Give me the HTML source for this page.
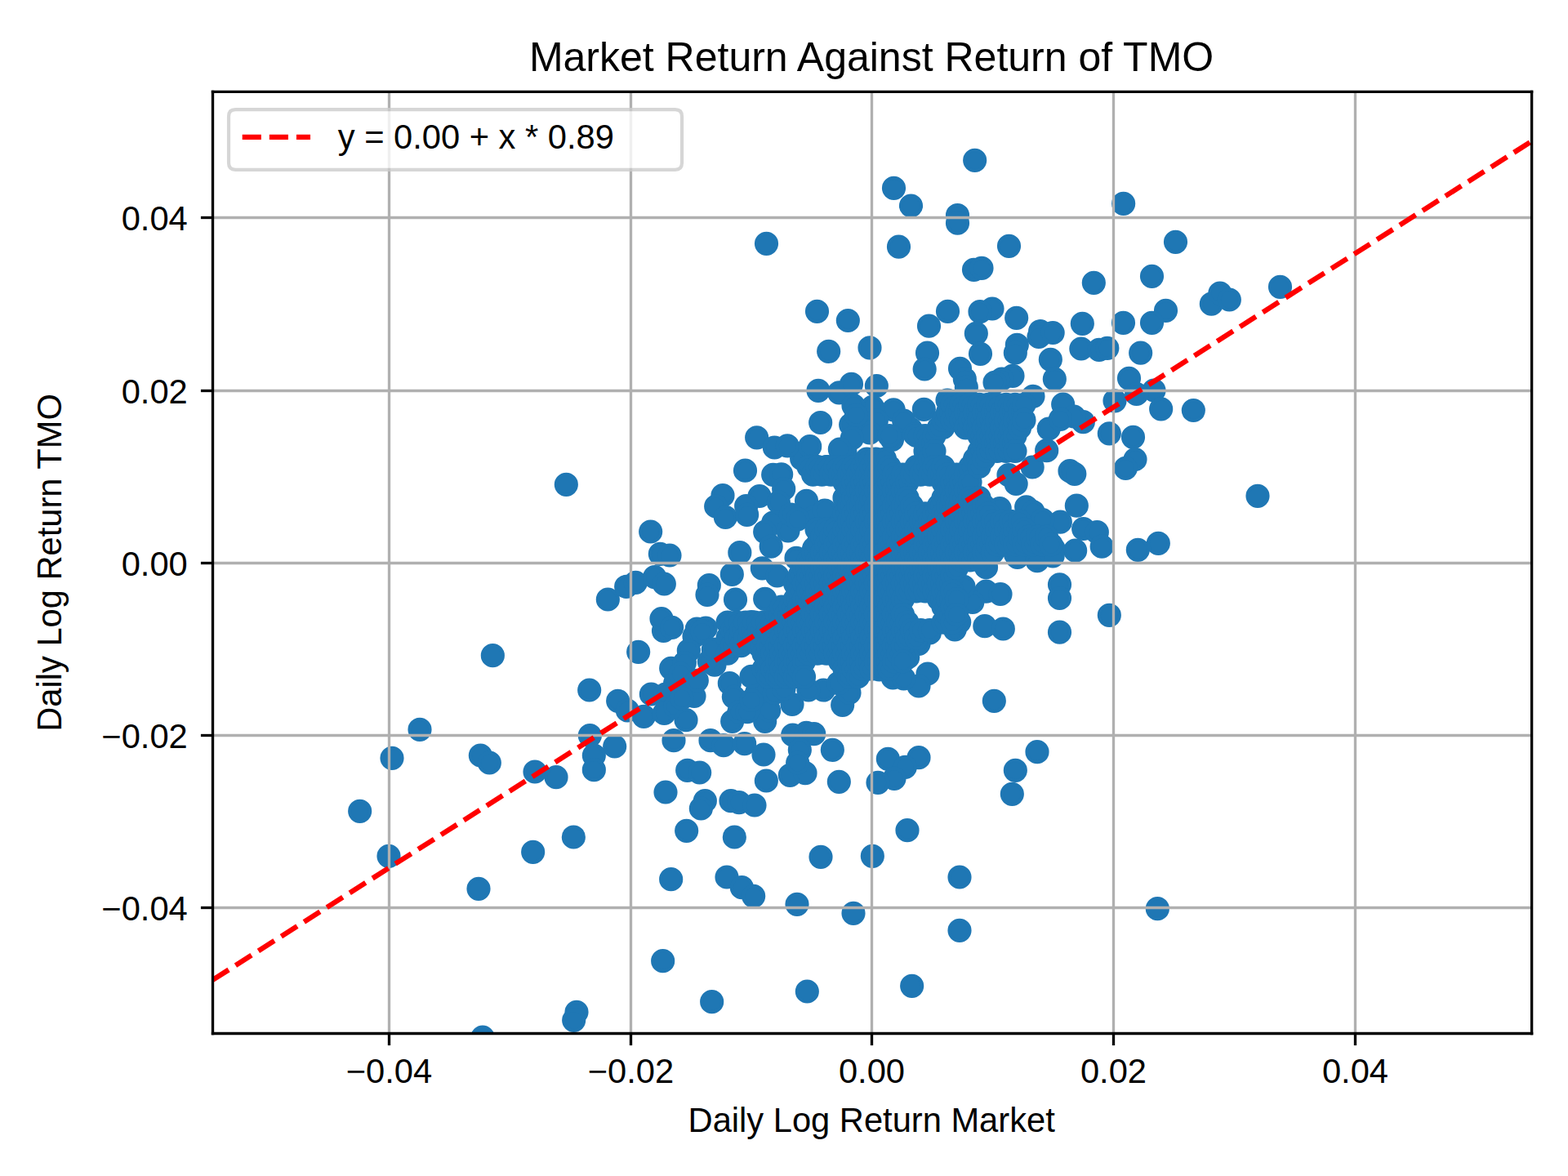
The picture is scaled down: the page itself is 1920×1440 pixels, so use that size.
<!DOCTYPE html>
<html><head><meta charset="utf-8"><title>Market Return Against Return of TMO</title>
<style>html,body{margin:0;padding:0;background:#fff;font-family:"Liberation Sans",sans-serif;}svg{display:block;}</style></head>
<body>
<svg width="1920" height="1440" viewBox="0 0 460.8 345.6" version="1.1">
 <defs>
  <style type="text/css">*{stroke-linejoin: round; stroke-linecap: butt}</style>
 </defs>
 <g id="figure_1">
  <g id="patch_1">
   <path d="M 0 345.6 
L 460.8 345.6 
L 460.8 0 
L 0 0 
z
" style="fill: #ffffff"/>
  </g>
  <g id="axes_1">
   <g id="patch_2">
    <path d="M 62.52 303.72 
L 450.144 303.72 
L 450.144 26.976 
L 62.52 26.976 
z
" style="fill: #ffffff"/>
   </g>
   <g id="PathCollection_1">
    <defs>
     <path id="mf14c53ed57" d="M 0 3 
C 0.795609 3 1.55874 2.683901 2.12132 2.12132 
C 2.683901 1.55874 3 0.795609 3 0 
C 3 -0.795609 2.683901 -1.55874 2.12132 -2.12132 
C 1.55874 -2.683901 0.795609 -3 0 -3 
C -0.795609 -3 -1.55874 -2.683901 -2.12132 -2.12132 
C -2.683901 -1.55874 -3 -0.795609 -3 0 
C -3 0.795609 -2.683901 1.55874 -2.12132 2.12132 
C -1.55874 2.683901 -0.795609 3 0 3 
z
" style="stroke: #1f77b4"/>
    </defs>
    <g clip-path="url(#pfc69b244ac)">
     <use href="#mf14c53ed57" x="286.48" y="47.12" style="fill: #1f77b4; stroke: #1f77b4"/>
     <use href="#mf14c53ed57" x="262.68" y="55.28" style="fill: #1f77b4; stroke: #1f77b4"/>
     <use href="#mf14c53ed57" x="267.72" y="60.48" style="fill: #1f77b4; stroke: #1f77b4"/>
     <use href="#mf14c53ed57" x="281.4" y="63.24" style="fill: #1f77b4; stroke: #1f77b4"/>
     <use href="#mf14c53ed57" x="281.4" y="65.56" style="fill: #1f77b4; stroke: #1f77b4"/>
     <use href="#mf14c53ed57" x="225.24" y="71.6" style="fill: #1f77b4; stroke: #1f77b4"/>
     <use href="#mf14c53ed57" x="264.12" y="72.52" style="fill: #1f77b4; stroke: #1f77b4"/>
     <use href="#mf14c53ed57" x="286.2" y="79.28" style="fill: #1f77b4; stroke: #1f77b4"/>
     <use href="#mf14c53ed57" x="288.48" y="78.8" style="fill: #1f77b4; stroke: #1f77b4"/>
     <use href="#mf14c53ed57" x="330.16" y="59.84" style="fill: #1f77b4; stroke: #1f77b4"/>
     <use href="#mf14c53ed57" x="296.52" y="72.32" style="fill: #1f77b4; stroke: #1f77b4"/>
     <use href="#mf14c53ed57" x="345.48" y="71.12" style="fill: #1f77b4; stroke: #1f77b4"/>
     <use href="#mf14c53ed57" x="321.44" y="83.12" style="fill: #1f77b4; stroke: #1f77b4"/>
     <use href="#mf14c53ed57" x="338.52" y="81.2" style="fill: #1f77b4; stroke: #1f77b4"/>
     <use href="#mf14c53ed57" x="342.6" y="91.28" style="fill: #1f77b4; stroke: #1f77b4"/>
     <use href="#mf14c53ed57" x="338.52" y="94.88" style="fill: #1f77b4; stroke: #1f77b4"/>
     <use href="#mf14c53ed57" x="356" y="89.32" style="fill: #1f77b4; stroke: #1f77b4"/>
     <use href="#mf14c53ed57" x="358.52" y="86.2" style="fill: #1f77b4; stroke: #1f77b4"/>
     <use href="#mf14c53ed57" x="361.28" y="88.08" style="fill: #1f77b4; stroke: #1f77b4"/>
     <use href="#mf14c53ed57" x="376.2" y="84.32" style="fill: #1f77b4; stroke: #1f77b4"/>
     <use href="#mf14c53ed57" x="291.6" y="90.72" style="fill: #1f77b4; stroke: #1f77b4"/>
     <use href="#mf14c53ed57" x="298.72" y="93.44" style="fill: #1f77b4; stroke: #1f77b4"/>
     <use href="#mf14c53ed57" x="305.68" y="97.36" style="fill: #1f77b4; stroke: #1f77b4"/>
     <use href="#mf14c53ed57" x="305.28" y="99" style="fill: #1f77b4; stroke: #1f77b4"/>
     <use href="#mf14c53ed57" x="309.4" y="97.8" style="fill: #1f77b4; stroke: #1f77b4"/>
     <use href="#mf14c53ed57" x="298.88" y="101.36" style="fill: #1f77b4; stroke: #1f77b4"/>
     <use href="#mf14c53ed57" x="298.4" y="103.68" style="fill: #1f77b4; stroke: #1f77b4"/>
     <use href="#mf14c53ed57" x="318.08" y="95.12" style="fill: #1f77b4; stroke: #1f77b4"/>
     <use href="#mf14c53ed57" x="330.12" y="94.88" style="fill: #1f77b4; stroke: #1f77b4"/>
     <use href="#mf14c53ed57" x="317.72" y="102.48" style="fill: #1f77b4; stroke: #1f77b4"/>
     <use href="#mf14c53ed57" x="323" y="102.8" style="fill: #1f77b4; stroke: #1f77b4"/>
     <use href="#mf14c53ed57" x="325.4" y="102.32" style="fill: #1f77b4; stroke: #1f77b4"/>
     <use href="#mf14c53ed57" x="335.2" y="103.72" style="fill: #1f77b4; stroke: #1f77b4"/>
     <use href="#mf14c53ed57" x="308.72" y="105.68" style="fill: #1f77b4; stroke: #1f77b4"/>
     <use href="#mf14c53ed57" x="309.92" y="111.4" style="fill: #1f77b4; stroke: #1f77b4"/>
     <use href="#mf14c53ed57" x="297.6" y="110.48" style="fill: #1f77b4; stroke: #1f77b4"/>
     <use href="#mf14c53ed57" x="294.4" y="111.4" style="fill: #1f77b4; stroke: #1f77b4"/>
     <use href="#mf14c53ed57" x="331.8" y="111.2" style="fill: #1f77b4; stroke: #1f77b4"/>
     <use href="#mf14c53ed57" x="339.12" y="114.72" style="fill: #1f77b4; stroke: #1f77b4"/>
     <use href="#mf14c53ed57" x="334" y="115.8" style="fill: #1f77b4; stroke: #1f77b4"/>
     <use href="#mf14c53ed57" x="341.2" y="120.2" style="fill: #1f77b4; stroke: #1f77b4"/>
     <use href="#mf14c53ed57" x="350.72" y="120.6" style="fill: #1f77b4; stroke: #1f77b4"/>
     <use href="#mf14c53ed57" x="327.6" y="117.8" style="fill: #1f77b4; stroke: #1f77b4"/>
     <use href="#mf14c53ed57" x="303.6" y="116.48" style="fill: #1f77b4; stroke: #1f77b4"/>
     <use href="#mf14c53ed57" x="312.4" y="118.8" style="fill: #1f77b4; stroke: #1f77b4"/>
     <use href="#mf14c53ed57" x="326" y="127.4" style="fill: #1f77b4; stroke: #1f77b4"/>
     <use href="#mf14c53ed57" x="333" y="128.48" style="fill: #1f77b4; stroke: #1f77b4"/>
     <use href="#mf14c53ed57" x="333.6" y="135" style="fill: #1f77b4; stroke: #1f77b4"/>
     <use href="#mf14c53ed57" x="330.8" y="137.6" style="fill: #1f77b4; stroke: #1f77b4"/>
     <use href="#mf14c53ed57" x="307.6" y="132.4" style="fill: #1f77b4; stroke: #1f77b4"/>
     <use href="#mf14c53ed57" x="278.52" y="91.52" style="fill: #1f77b4; stroke: #1f77b4"/>
     <use href="#mf14c53ed57" x="273" y="95.8" style="fill: #1f77b4; stroke: #1f77b4"/>
     <use href="#mf14c53ed57" x="288" y="91.6" style="fill: #1f77b4; stroke: #1f77b4"/>
     <use href="#mf14c53ed57" x="286.88" y="98" style="fill: #1f77b4; stroke: #1f77b4"/>
     <use href="#mf14c53ed57" x="288.12" y="104" style="fill: #1f77b4; stroke: #1f77b4"/>
     <use href="#mf14c53ed57" x="272.52" y="103.72" style="fill: #1f77b4; stroke: #1f77b4"/>
     <use href="#mf14c53ed57" x="271.72" y="108.48" style="fill: #1f77b4; stroke: #1f77b4"/>
     <use href="#mf14c53ed57" x="255.6" y="102.2" style="fill: #1f77b4; stroke: #1f77b4"/>
     <use href="#mf14c53ed57" x="257.6" y="113.4" style="fill: #1f77b4; stroke: #1f77b4"/>
     <use href="#mf14c53ed57" x="282.12" y="108.32" style="fill: #1f77b4; stroke: #1f77b4"/>
     <use href="#mf14c53ed57" x="283.52" y="111.4" style="fill: #1f77b4; stroke: #1f77b4"/>
     <use href="#mf14c53ed57" x="284" y="113.8" style="fill: #1f77b4; stroke: #1f77b4"/>
     <use href="#mf14c53ed57" x="292.32" y="112.4" style="fill: #1f77b4; stroke: #1f77b4"/>
     <use href="#mf14c53ed57" x="271.52" y="120.32" style="fill: #1f77b4; stroke: #1f77b4"/>
     <use href="#mf14c53ed57" x="262.6" y="120.44" style="fill: #1f77b4; stroke: #1f77b4"/>
     <use href="#mf14c53ed57" x="318.32" y="124" style="fill: #1f77b4; stroke: #1f77b4"/>
     <use href="#mf14c53ed57" x="315.6" y="122.4" style="fill: #1f77b4; stroke: #1f77b4"/>
     <use href="#mf14c53ed57" x="308.2" y="126" style="fill: #1f77b4; stroke: #1f77b4"/>
     <use href="#mf14c53ed57" x="314.4" y="138.4" style="fill: #1f77b4; stroke: #1f77b4"/>
     <use href="#mf14c53ed57" x="315.8" y="139.28" style="fill: #1f77b4; stroke: #1f77b4"/>
     <use href="#mf14c53ed57" x="316.4" y="148.6" style="fill: #1f77b4; stroke: #1f77b4"/>
     <use href="#mf14c53ed57" x="303.4" y="137.28" style="fill: #1f77b4; stroke: #1f77b4"/>
     <use href="#mf14c53ed57" x="296.4" y="139.6" style="fill: #1f77b4; stroke: #1f77b4"/>
     <use href="#mf14c53ed57" x="298.6" y="142.2" style="fill: #1f77b4; stroke: #1f77b4"/>
     <use href="#mf14c53ed57" x="293.8" y="149.4" style="fill: #1f77b4; stroke: #1f77b4"/>
     <use href="#mf14c53ed57" x="301.6" y="149" style="fill: #1f77b4; stroke: #1f77b4"/>
     <use href="#mf14c53ed57" x="303.6" y="150.4" style="fill: #1f77b4; stroke: #1f77b4"/>
     <use href="#mf14c53ed57" x="311.6" y="153.4" style="fill: #1f77b4; stroke: #1f77b4"/>
     <use href="#mf14c53ed57" x="306.4" y="152.8" style="fill: #1f77b4; stroke: #1f77b4"/>
     <use href="#mf14c53ed57" x="318.4" y="155.4" style="fill: #1f77b4; stroke: #1f77b4"/>
     <use href="#mf14c53ed57" x="322.4" y="156.4" style="fill: #1f77b4; stroke: #1f77b4"/>
     <use href="#mf14c53ed57" x="323.8" y="160.6" style="fill: #1f77b4; stroke: #1f77b4"/>
     <use href="#mf14c53ed57" x="316" y="161.8" style="fill: #1f77b4; stroke: #1f77b4"/>
     <use href="#mf14c53ed57" x="309.6" y="161.2" style="fill: #1f77b4; stroke: #1f77b4"/>
     <use href="#mf14c53ed57" x="298.4" y="162.8" style="fill: #1f77b4; stroke: #1f77b4"/>
     <use href="#mf14c53ed57" x="304.4" y="163.6" style="fill: #1f77b4; stroke: #1f77b4"/>
     <use href="#mf14c53ed57" x="144.8" y="192.64" style="fill: #1f77b4; stroke: #1f77b4"/>
     <use href="#mf14c53ed57" x="187.6" y="191.6" style="fill: #1f77b4; stroke: #1f77b4"/>
     <use href="#mf14c53ed57" x="173.2" y="202.8" style="fill: #1f77b4; stroke: #1f77b4"/>
     <use href="#mf14c53ed57" x="181.6" y="206" style="fill: #1f77b4; stroke: #1f77b4"/>
     <use href="#mf14c53ed57" x="184.4" y="208.8" style="fill: #1f77b4; stroke: #1f77b4"/>
     <use href="#mf14c53ed57" x="189.2" y="210.56" style="fill: #1f77b4; stroke: #1f77b4"/>
     <use href="#mf14c53ed57" x="191.36" y="204" style="fill: #1f77b4; stroke: #1f77b4"/>
     <use href="#mf14c53ed57" x="123.36" y="214.4" style="fill: #1f77b4; stroke: #1f77b4"/>
     <use href="#mf14c53ed57" x="115.2" y="222.8" style="fill: #1f77b4; stroke: #1f77b4"/>
     <use href="#mf14c53ed57" x="141.2" y="222" style="fill: #1f77b4; stroke: #1f77b4"/>
     <use href="#mf14c53ed57" x="143.84" y="224.16" style="fill: #1f77b4; stroke: #1f77b4"/>
     <use href="#mf14c53ed57" x="173.36" y="216.16" style="fill: #1f77b4; stroke: #1f77b4"/>
     <use href="#mf14c53ed57" x="180.64" y="219.36" style="fill: #1f77b4; stroke: #1f77b4"/>
     <use href="#mf14c53ed57" x="174.56" y="222" style="fill: #1f77b4; stroke: #1f77b4"/>
     <use href="#mf14c53ed57" x="174.56" y="226.24" style="fill: #1f77b4; stroke: #1f77b4"/>
     <use href="#mf14c53ed57" x="157.2" y="226.8" style="fill: #1f77b4; stroke: #1f77b4"/>
     <use href="#mf14c53ed57" x="163.44" y="228.4" style="fill: #1f77b4; stroke: #1f77b4"/>
     <use href="#mf14c53ed57" x="105.76" y="238.4" style="fill: #1f77b4; stroke: #1f77b4"/>
     <use href="#mf14c53ed57" x="114.24" y="251.6" style="fill: #1f77b4; stroke: #1f77b4"/>
     <use href="#mf14c53ed57" x="168.56" y="246" style="fill: #1f77b4; stroke: #1f77b4"/>
     <use href="#mf14c53ed57" x="156.64" y="250.4" style="fill: #1f77b4; stroke: #1f77b4"/>
     <use href="#mf14c53ed57" x="140.64" y="261.2" style="fill: #1f77b4; stroke: #1f77b4"/>
     <use href="#mf14c53ed57" x="195.6" y="232.8" style="fill: #1f77b4; stroke: #1f77b4"/>
     <use href="#mf14c53ed57" x="202" y="226.4" style="fill: #1f77b4; stroke: #1f77b4"/>
     <use href="#mf14c53ed57" x="205.6" y="227.04" style="fill: #1f77b4; stroke: #1f77b4"/>
     <use href="#mf14c53ed57" x="198" y="217.6" style="fill: #1f77b4; stroke: #1f77b4"/>
     <use href="#mf14c53ed57" x="207.2" y="235.36" style="fill: #1f77b4; stroke: #1f77b4"/>
     <use href="#mf14c53ed57" x="206" y="237.6" style="fill: #1f77b4; stroke: #1f77b4"/>
     <use href="#mf14c53ed57" x="201.76" y="244.16" style="fill: #1f77b4; stroke: #1f77b4"/>
     <use href="#mf14c53ed57" x="197.2" y="258.4" style="fill: #1f77b4; stroke: #1f77b4"/>
     <use href="#mf14c53ed57" x="213.6" y="257.76" style="fill: #1f77b4; stroke: #1f77b4"/>
     <use href="#mf14c53ed57" x="194.8" y="282.4" style="fill: #1f77b4; stroke: #1f77b4"/>
     <use href="#mf14c53ed57" x="209.2" y="294.4" style="fill: #1f77b4; stroke: #1f77b4"/>
     <use href="#mf14c53ed57" x="169.44" y="297.44" style="fill: #1f77b4; stroke: #1f77b4"/>
     <use href="#mf14c53ed57" x="168.64" y="299.84" style="fill: #1f77b4; stroke: #1f77b4"/>
     <use href="#mf14c53ed57" x="141.84" y="304.8" style="fill: #1f77b4; stroke: #1f77b4"/>
     <use href="#mf14c53ed57" x="208.8" y="217.6" style="fill: #1f77b4; stroke: #1f77b4"/>
     <use href="#mf14c53ed57" x="212.64" y="219.04" style="fill: #1f77b4; stroke: #1f77b4"/>
     <use href="#mf14c53ed57" x="218.8" y="218.56" style="fill: #1f77b4; stroke: #1f77b4"/>
     <use href="#mf14c53ed57" x="224.4" y="221.76" style="fill: #1f77b4; stroke: #1f77b4"/>
     <use href="#mf14c53ed57" x="232.96" y="216" style="fill: #1f77b4; stroke: #1f77b4"/>
     <use href="#mf14c53ed57" x="236.96" y="215.36" style="fill: #1f77b4; stroke: #1f77b4"/>
     <use href="#mf14c53ed57" x="239.2" y="215.68" style="fill: #1f77b4; stroke: #1f77b4"/>
     <use href="#mf14c53ed57" x="235.04" y="220.4" style="fill: #1f77b4; stroke: #1f77b4"/>
     <use href="#mf14c53ed57" x="244.64" y="220.4" style="fill: #1f77b4; stroke: #1f77b4"/>
     <use href="#mf14c53ed57" x="232.16" y="227.84" style="fill: #1f77b4; stroke: #1f77b4"/>
     <use href="#mf14c53ed57" x="236.64" y="227.2" style="fill: #1f77b4; stroke: #1f77b4"/>
     <use href="#mf14c53ed57" x="234.4" y="224.16" style="fill: #1f77b4; stroke: #1f77b4"/>
     <use href="#mf14c53ed57" x="225.2" y="229.44" style="fill: #1f77b4; stroke: #1f77b4"/>
     <use href="#mf14c53ed57" x="246.56" y="229.76" style="fill: #1f77b4; stroke: #1f77b4"/>
     <use href="#mf14c53ed57" x="214.8" y="235.36" style="fill: #1f77b4; stroke: #1f77b4"/>
     <use href="#mf14c53ed57" x="217.2" y="235.84" style="fill: #1f77b4; stroke: #1f77b4"/>
     <use href="#mf14c53ed57" x="221.76" y="236.64" style="fill: #1f77b4; stroke: #1f77b4"/>
     <use href="#mf14c53ed57" x="215.84" y="246" style="fill: #1f77b4; stroke: #1f77b4"/>
     <use href="#mf14c53ed57" x="260.96" y="223.04" style="fill: #1f77b4; stroke: #1f77b4"/>
     <use href="#mf14c53ed57" x="270" y="222.64" style="fill: #1f77b4; stroke: #1f77b4"/>
     <use href="#mf14c53ed57" x="266" y="225.44" style="fill: #1f77b4; stroke: #1f77b4"/>
     <use href="#mf14c53ed57" x="262.8" y="228.8" style="fill: #1f77b4; stroke: #1f77b4"/>
     <use href="#mf14c53ed57" x="258" y="230" style="fill: #1f77b4; stroke: #1f77b4"/>
     <use href="#mf14c53ed57" x="266.64" y="244" style="fill: #1f77b4; stroke: #1f77b4"/>
     <use href="#mf14c53ed57" x="241.2" y="251.84" style="fill: #1f77b4; stroke: #1f77b4"/>
     <use href="#mf14c53ed57" x="256.4" y="251.6" style="fill: #1f77b4; stroke: #1f77b4"/>
     <use href="#mf14c53ed57" x="218" y="260.8" style="fill: #1f77b4; stroke: #1f77b4"/>
     <use href="#mf14c53ed57" x="221.44" y="263.36" style="fill: #1f77b4; stroke: #1f77b4"/>
     <use href="#mf14c53ed57" x="234.24" y="265.76" style="fill: #1f77b4; stroke: #1f77b4"/>
     <use href="#mf14c53ed57" x="250.8" y="268.4" style="fill: #1f77b4; stroke: #1f77b4"/>
     <use href="#mf14c53ed57" x="282" y="257.76" style="fill: #1f77b4; stroke: #1f77b4"/>
     <use href="#mf14c53ed57" x="282" y="273.44" style="fill: #1f77b4; stroke: #1f77b4"/>
     <use href="#mf14c53ed57" x="298.4" y="226.4" style="fill: #1f77b4; stroke: #1f77b4"/>
     <use href="#mf14c53ed57" x="304.8" y="220.96" style="fill: #1f77b4; stroke: #1f77b4"/>
     <use href="#mf14c53ed57" x="297.44" y="233.36" style="fill: #1f77b4; stroke: #1f77b4"/>
     <use href="#mf14c53ed57" x="292.16" y="206" style="fill: #1f77b4; stroke: #1f77b4"/>
     <use href="#mf14c53ed57" x="340.16" y="267.04" style="fill: #1f77b4; stroke: #1f77b4"/>
     <use href="#mf14c53ed57" x="237.2" y="291.36" style="fill: #1f77b4; stroke: #1f77b4"/>
     <use href="#mf14c53ed57" x="268" y="289.76" style="fill: #1f77b4; stroke: #1f77b4"/>
     <use href="#mf14c53ed57" x="272.64" y="198" style="fill: #1f77b4; stroke: #1f77b4"/>
     <use href="#mf14c53ed57" x="270" y="201.6" style="fill: #1f77b4; stroke: #1f77b4"/>
     <use href="#mf14c53ed57" x="247.6" y="207.2" style="fill: #1f77b4; stroke: #1f77b4"/>
     <use href="#mf14c53ed57" x="195" y="185.4" style="fill: #1f77b4; stroke: #1f77b4"/>
     <use href="#mf14c53ed57" x="197.2" y="196.4" style="fill: #1f77b4; stroke: #1f77b4"/>
     <use href="#mf14c53ed57" x="204" y="187" style="fill: #1f77b4; stroke: #1f77b4"/>
     <use href="#mf14c53ed57" x="202.4" y="191.2" style="fill: #1f77b4; stroke: #1f77b4"/>
     <use href="#mf14c53ed57" x="201.2" y="194.8" style="fill: #1f77b4; stroke: #1f77b4"/>
     <use href="#mf14c53ed57" x="198.4" y="200.8" style="fill: #1f77b4; stroke: #1f77b4"/>
     <use href="#mf14c53ed57" x="203.2" y="202.4" style="fill: #1f77b4; stroke: #1f77b4"/>
     <use href="#mf14c53ed57" x="204" y="204.6" style="fill: #1f77b4; stroke: #1f77b4"/>
     <use href="#mf14c53ed57" x="195.6" y="204" style="fill: #1f77b4; stroke: #1f77b4"/>
     <use href="#mf14c53ed57" x="195.2" y="209.6" style="fill: #1f77b4; stroke: #1f77b4"/>
     <use href="#mf14c53ed57" x="198.4" y="207.6" style="fill: #1f77b4; stroke: #1f77b4"/>
     <use href="#mf14c53ed57" x="201.6" y="211.6" style="fill: #1f77b4; stroke: #1f77b4"/>
     <use href="#mf14c53ed57" x="210" y="195.4" style="fill: #1f77b4; stroke: #1f77b4"/>
     <use href="#mf14c53ed57" x="214.4" y="200.8" style="fill: #1f77b4; stroke: #1f77b4"/>
     <use href="#mf14c53ed57" x="215.6" y="204.8" style="fill: #1f77b4; stroke: #1f77b4"/>
     <use href="#mf14c53ed57" x="215.2" y="212" style="fill: #1f77b4; stroke: #1f77b4"/>
     <use href="#mf14c53ed57" x="217.2" y="209.2" style="fill: #1f77b4; stroke: #1f77b4"/>
     <use href="#mf14c53ed57" x="224.8" y="212" style="fill: #1f77b4; stroke: #1f77b4"/>
     <use href="#mf14c53ed57" x="226" y="208.8" style="fill: #1f77b4; stroke: #1f77b4"/>
     <use href="#mf14c53ed57" x="232.8" y="207" style="fill: #1f77b4; stroke: #1f77b4"/>
     <use href="#mf14c53ed57" x="249.6" y="203.6" style="fill: #1f77b4; stroke: #1f77b4"/>
     <use href="#mf14c53ed57" x="242" y="202.8" style="fill: #1f77b4; stroke: #1f77b4"/>
     <use href="#mf14c53ed57" x="237.6" y="202.8" style="fill: #1f77b4; stroke: #1f77b4"/>
     <use href="#mf14c53ed57" x="222.4" y="203.6" style="fill: #1f77b4; stroke: #1f77b4"/>
     <use href="#mf14c53ed57" x="220.8" y="198.8" style="fill: #1f77b4; stroke: #1f77b4"/>
     <use href="#mf14c53ed57" x="166.4" y="142.4" style="fill: #1f77b4; stroke: #1f77b4"/>
     <use href="#mf14c53ed57" x="191.2" y="156.24" style="fill: #1f77b4; stroke: #1f77b4"/>
     <use href="#mf14c53ed57" x="194" y="162.8" style="fill: #1f77b4; stroke: #1f77b4"/>
     <use href="#mf14c53ed57" x="196.8" y="163.2" style="fill: #1f77b4; stroke: #1f77b4"/>
     <use href="#mf14c53ed57" x="178.64" y="176.16" style="fill: #1f77b4; stroke: #1f77b4"/>
     <use href="#mf14c53ed57" x="184" y="172.4" style="fill: #1f77b4; stroke: #1f77b4"/>
     <use href="#mf14c53ed57" x="186.8" y="171.2" style="fill: #1f77b4; stroke: #1f77b4"/>
     <use href="#mf14c53ed57" x="192.4" y="169.6" style="fill: #1f77b4; stroke: #1f77b4"/>
     <use href="#mf14c53ed57" x="195.2" y="171.6" style="fill: #1f77b4; stroke: #1f77b4"/>
     <use href="#mf14c53ed57" x="208.4" y="172" style="fill: #1f77b4; stroke: #1f77b4"/>
     <use href="#mf14c53ed57" x="207.84" y="174.8" style="fill: #1f77b4; stroke: #1f77b4"/>
     <use href="#mf14c53ed57" x="212.4" y="145.6" style="fill: #1f77b4; stroke: #1f77b4"/>
     <use href="#mf14c53ed57" x="210.4" y="148.8" style="fill: #1f77b4; stroke: #1f77b4"/>
     <use href="#mf14c53ed57" x="213.2" y="152" style="fill: #1f77b4; stroke: #1f77b4"/>
     <use href="#mf14c53ed57" x="194.4" y="181.84" style="fill: #1f77b4; stroke: #1f77b4"/>
     <use href="#mf14c53ed57" x="197.44" y="184.4" style="fill: #1f77b4; stroke: #1f77b4"/>
     <use href="#mf14c53ed57" x="219" y="138.28" style="fill: #1f77b4; stroke: #1f77b4"/>
     <use href="#mf14c53ed57" x="223.2" y="145.8" style="fill: #1f77b4; stroke: #1f77b4"/>
     <use href="#mf14c53ed57" x="219.28" y="148.72" style="fill: #1f77b4; stroke: #1f77b4"/>
     <use href="#mf14c53ed57" x="219.52" y="151.28" style="fill: #1f77b4; stroke: #1f77b4"/>
     <use href="#mf14c53ed57" x="227.2" y="139.52" style="fill: #1f77b4; stroke: #1f77b4"/>
     <use href="#mf14c53ed57" x="229.6" y="139.4" style="fill: #1f77b4; stroke: #1f77b4"/>
     <use href="#mf14c53ed57" x="230.32" y="143.68" style="fill: #1f77b4; stroke: #1f77b4"/>
     <use href="#mf14c53ed57" x="237" y="147.2" style="fill: #1f77b4; stroke: #1f77b4"/>
     <use href="#mf14c53ed57" x="227.2" y="153.6" style="fill: #1f77b4; stroke: #1f77b4"/>
     <use href="#mf14c53ed57" x="224.8" y="156.32" style="fill: #1f77b4; stroke: #1f77b4"/>
     <use href="#mf14c53ed57" x="231.6" y="156" style="fill: #1f77b4; stroke: #1f77b4"/>
     <use href="#mf14c53ed57" x="226.6" y="160.6" style="fill: #1f77b4; stroke: #1f77b4"/>
     <use href="#mf14c53ed57" x="217.4" y="162.4" style="fill: #1f77b4; stroke: #1f77b4"/>
     <use href="#mf14c53ed57" x="224" y="167" style="fill: #1f77b4; stroke: #1f77b4"/>
     <use href="#mf14c53ed57" x="228.4" y="169.2" style="fill: #1f77b4; stroke: #1f77b4"/>
     <use href="#mf14c53ed57" x="215.12" y="168.8" style="fill: #1f77b4; stroke: #1f77b4"/>
     <use href="#mf14c53ed57" x="216.12" y="176.2" style="fill: #1f77b4; stroke: #1f77b4"/>
     <use href="#mf14c53ed57" x="224.8" y="176" style="fill: #1f77b4; stroke: #1f77b4"/>
     <use href="#mf14c53ed57" x="204.8" y="184.8" style="fill: #1f77b4; stroke: #1f77b4"/>
     <use href="#mf14c53ed57" x="207.4" y="184.6" style="fill: #1f77b4; stroke: #1f77b4"/>
     <use href="#mf14c53ed57" x="214.8" y="183.6" style="fill: #1f77b4; stroke: #1f77b4"/>
     <use href="#mf14c53ed57" x="220.8" y="182.8" style="fill: #1f77b4; stroke: #1f77b4"/>
     <use href="#mf14c53ed57" x="222.4" y="128.6" style="fill: #1f77b4; stroke: #1f77b4"/>
     <use href="#mf14c53ed57" x="227.6" y="131.52" style="fill: #1f77b4; stroke: #1f77b4"/>
     <use href="#mf14c53ed57" x="235.6" y="134.8" style="fill: #1f77b4; stroke: #1f77b4"/>
     <use href="#mf14c53ed57" x="238.4" y="136.4" style="fill: #1f77b4; stroke: #1f77b4"/>
     <use href="#mf14c53ed57" x="243.2" y="137.2" style="fill: #1f77b4; stroke: #1f77b4"/>
     <use href="#mf14c53ed57" x="248.4" y="132.8" style="fill: #1f77b4; stroke: #1f77b4"/>
     <use href="#mf14c53ed57" x="228.8" y="147.6" style="fill: #1f77b4; stroke: #1f77b4"/>
     <use href="#mf14c53ed57" x="232.4" y="151.2" style="fill: #1f77b4; stroke: #1f77b4"/>
     <use href="#mf14c53ed57" x="239.2" y="152" style="fill: #1f77b4; stroke: #1f77b4"/>
     <use href="#mf14c53ed57" x="234.4" y="152.6" style="fill: #1f77b4; stroke: #1f77b4"/>
     <use href="#mf14c53ed57" x="240" y="155.6" style="fill: #1f77b4; stroke: #1f77b4"/>
     <use href="#mf14c53ed57" x="239.2" y="161.2" style="fill: #1f77b4; stroke: #1f77b4"/>
     <use href="#mf14c53ed57" x="234" y="164" style="fill: #1f77b4; stroke: #1f77b4"/>
     <use href="#mf14c53ed57" x="242.4" y="150" style="fill: #1f77b4; stroke: #1f77b4"/>
     <use href="#mf14c53ed57" x="311.4" y="171.8" style="fill: #1f77b4; stroke: #1f77b4"/>
     <use href="#mf14c53ed57" x="311.4" y="175.8" style="fill: #1f77b4; stroke: #1f77b4"/>
     <use href="#mf14c53ed57" x="311.4" y="185.8" style="fill: #1f77b4; stroke: #1f77b4"/>
     <use href="#mf14c53ed57" x="326" y="180.8" style="fill: #1f77b4; stroke: #1f77b4"/>
     <use href="#mf14c53ed57" x="289.4" y="184" style="fill: #1f77b4; stroke: #1f77b4"/>
     <use href="#mf14c53ed57" x="294.8" y="184.8" style="fill: #1f77b4; stroke: #1f77b4"/>
     <use href="#mf14c53ed57" x="289.8" y="173.8" style="fill: #1f77b4; stroke: #1f77b4"/>
     <use href="#mf14c53ed57" x="294" y="174.6" style="fill: #1f77b4; stroke: #1f77b4"/>
     <use href="#mf14c53ed57" x="262.4" y="199.2" style="fill: #1f77b4; stroke: #1f77b4"/>
     <use href="#mf14c53ed57" x="265.6" y="199.4" style="fill: #1f77b4; stroke: #1f77b4"/>
     <use href="#mf14c53ed57" x="258.4" y="196.8" style="fill: #1f77b4; stroke: #1f77b4"/>
     <use href="#mf14c53ed57" x="289.8" y="166.72" style="fill: #1f77b4; stroke: #1f77b4"/>
     <use href="#mf14c53ed57" x="299" y="163.8" style="fill: #1f77b4; stroke: #1f77b4"/>
     <use href="#mf14c53ed57" x="304.8" y="164.8" style="fill: #1f77b4; stroke: #1f77b4"/>
     <use href="#mf14c53ed57" x="309.4" y="163.4" style="fill: #1f77b4; stroke: #1f77b4"/>
     <use href="#mf14c53ed57" x="280.6" y="185" style="fill: #1f77b4; stroke: #1f77b4"/>
     <use href="#mf14c53ed57" x="285.8" y="177" style="fill: #1f77b4; stroke: #1f77b4"/>
     <use href="#mf14c53ed57" x="283.2" y="172.4" style="fill: #1f77b4; stroke: #1f77b4"/>
     <use href="#mf14c53ed57" x="273.2" y="186" style="fill: #1f77b4; stroke: #1f77b4"/>
     <use href="#mf14c53ed57" x="270" y="189.2" style="fill: #1f77b4; stroke: #1f77b4"/>
     <use href="#mf14c53ed57" x="266.8" y="193.2" style="fill: #1f77b4; stroke: #1f77b4"/>
     <use href="#mf14c53ed57" x="281.92" y="182.8" style="fill: #1f77b4; stroke: #1f77b4"/>
     <use href="#mf14c53ed57" x="256.4" y="119.6" style="fill: #1f77b4; stroke: #1f77b4"/>
     <use href="#mf14c53ed57" x="257.6" y="123.6" style="fill: #1f77b4; stroke: #1f77b4"/>
     <use href="#mf14c53ed57" x="255.6" y="127.2" style="fill: #1f77b4; stroke: #1f77b4"/>
     <use href="#mf14c53ed57" x="262.2" y="129.2" style="fill: #1f77b4; stroke: #1f77b4"/>
     <use href="#mf14c53ed57" x="267.6" y="126" style="fill: #1f77b4; stroke: #1f77b4"/>
     <use href="#mf14c53ed57" x="270.8" y="128.2" style="fill: #1f77b4; stroke: #1f77b4"/>
     <use href="#mf14c53ed57" x="200" y="198" style="fill: #1f77b4; stroke: #1f77b4"/>
     <use href="#mf14c53ed57" x="204.8" y="200" style="fill: #1f77b4; stroke: #1f77b4"/>
     <use href="#mf14c53ed57" x="200.4" y="205.2" style="fill: #1f77b4; stroke: #1f77b4"/>
     <use href="#mf14c53ed57" x="206.4" y="185.6" style="fill: #1f77b4; stroke: #1f77b4"/>
     <use href="#mf14c53ed57" x="208.4" y="194.4" style="fill: #1f77b4; stroke: #1f77b4"/>
     <use href="#mf14c53ed57" x="227.6" y="203.6" style="fill: #1f77b4; stroke: #1f77b4"/>
     <use href="#mf14c53ed57" x="230.4" y="202.4" style="fill: #1f77b4; stroke: #1f77b4"/>
     <use href="#mf14c53ed57" x="246.4" y="200.8" style="fill: #1f77b4; stroke: #1f77b4"/>
     <use href="#mf14c53ed57" x="240.12" y="91.52" style="fill: #1f77b4; stroke: #1f77b4"/>
     <use href="#mf14c53ed57" x="249.2" y="94.2" style="fill: #1f77b4; stroke: #1f77b4"/>
     <use href="#mf14c53ed57" x="243.52" y="103.28" style="fill: #1f77b4; stroke: #1f77b4"/>
     <use href="#mf14c53ed57" x="240.48" y="114.8" style="fill: #1f77b4; stroke: #1f77b4"/>
     <use href="#mf14c53ed57" x="246.6" y="115.4" style="fill: #1f77b4; stroke: #1f77b4"/>
     <use href="#mf14c53ed57" x="250.2" y="112.88" style="fill: #1f77b4; stroke: #1f77b4"/>
     <use href="#mf14c53ed57" x="241.12" y="124.2" style="fill: #1f77b4; stroke: #1f77b4"/>
     <use href="#mf14c53ed57" x="231.4" y="131" style="fill: #1f77b4; stroke: #1f77b4"/>
     <use href="#mf14c53ed57" x="238" y="131.2" style="fill: #1f77b4; stroke: #1f77b4"/>
     <use href="#mf14c53ed57" x="250.8" y="119.2" style="fill: #1f77b4; stroke: #1f77b4"/>
     <use href="#mf14c53ed57" x="250" y="124.8" style="fill: #1f77b4; stroke: #1f77b4"/>
     <use href="#mf14c53ed57" x="251.6" y="122" style="fill: #1f77b4; stroke: #1f77b4"/>
     <use href="#mf14c53ed57" x="250.4" y="128.8" style="fill: #1f77b4; stroke: #1f77b4"/>
     <use href="#mf14c53ed57" x="246.8" y="132" style="fill: #1f77b4; stroke: #1f77b4"/>
     <use href="#mf14c53ed57" x="265.6" y="123.6" style="fill: #1f77b4; stroke: #1f77b4"/>
     <use href="#mf14c53ed57" x="268.8" y="127.6" style="fill: #1f77b4; stroke: #1f77b4"/>
     <use href="#mf14c53ed57" x="278.4" y="117.6" style="fill: #1f77b4; stroke: #1f77b4"/>
     <use href="#mf14c53ed57" x="277.2" y="125.6" style="fill: #1f77b4; stroke: #1f77b4"/>
     <use href="#mf14c53ed57" x="334.4" y="161.6" style="fill: #1f77b4; stroke: #1f77b4"/>
     <use href="#mf14c53ed57" x="340.4" y="159.68" style="fill: #1f77b4; stroke: #1f77b4"/>
     <use href="#mf14c53ed57" x="369.6" y="145.76" style="fill: #1f77b4; stroke: #1f77b4"/>
     <use href="#mf14c53ed57" x="311.6" y="123.2" style="fill: #1f77b4; stroke: #1f77b4"/>
     <use href="#mf14c53ed57" x="219.6" y="209.2" style="fill: #1f77b4; stroke: #1f77b4"/>
     <use href="#mf14c53ed57" x="209.6" y="190.8" style="fill: #1f77b4; stroke: #1f77b4"/>
     <use href="#mf14c53ed57" x="220.8" y="205.8" style="fill: #1f77b4; stroke: #1f77b4"/>
     <use href="#mf14c53ed57" x="213.84" y="182.8992" style="fill: #1f77b4; stroke: #1f77b4"/>
     <use href="#mf14c53ed57" x="213.84" y="187.4712" style="fill: #1f77b4; stroke: #1f77b4"/>
     <use href="#mf14c53ed57" x="213.84" y="192.0432" style="fill: #1f77b4; stroke: #1f77b4"/>
     <use href="#mf14c53ed57" x="215.16" y="185.1864" style="fill: #1f77b4; stroke: #1f77b4"/>
     <use href="#mf14c53ed57" x="215.16" y="189.7584" style="fill: #1f77b4; stroke: #1f77b4"/>
     <use href="#mf14c53ed57" x="216.48" y="182.8992" style="fill: #1f77b4; stroke: #1f77b4"/>
     <use href="#mf14c53ed57" x="216.48" y="187.4712" style="fill: #1f77b4; stroke: #1f77b4"/>
     <use href="#mf14c53ed57" x="217.8" y="185.1864" style="fill: #1f77b4; stroke: #1f77b4"/>
     <use href="#mf14c53ed57" x="217.8" y="189.7584" style="fill: #1f77b4; stroke: #1f77b4"/>
     <use href="#mf14c53ed57" x="219.12" y="182.8992" style="fill: #1f77b4; stroke: #1f77b4"/>
     <use href="#mf14c53ed57" x="219.12" y="187.4712" style="fill: #1f77b4; stroke: #1f77b4"/>
     <use href="#mf14c53ed57" x="220.44" y="185.1864" style="fill: #1f77b4; stroke: #1f77b4"/>
     <use href="#mf14c53ed57" x="221.76" y="182.8992" style="fill: #1f77b4; stroke: #1f77b4"/>
     <use href="#mf14c53ed57" x="221.76" y="187.4712" style="fill: #1f77b4; stroke: #1f77b4"/>
     <use href="#mf14c53ed57" x="223.08" y="185.1864" style="fill: #1f77b4; stroke: #1f77b4"/>
     <use href="#mf14c53ed57" x="223.08" y="189.7584" style="fill: #1f77b4; stroke: #1f77b4"/>
     <use href="#mf14c53ed57" x="224.4" y="182.8992" style="fill: #1f77b4; stroke: #1f77b4"/>
     <use href="#mf14c53ed57" x="224.4" y="187.4712" style="fill: #1f77b4; stroke: #1f77b4"/>
     <use href="#mf14c53ed57" x="224.4" y="192.0432" style="fill: #1f77b4; stroke: #1f77b4"/>
     <use href="#mf14c53ed57" x="224.4" y="196.6176" style="fill: #1f77b4; stroke: #1f77b4"/>
     <use href="#mf14c53ed57" x="225.72" y="185.1864" style="fill: #1f77b4; stroke: #1f77b4"/>
     <use href="#mf14c53ed57" x="225.72" y="189.7584" style="fill: #1f77b4; stroke: #1f77b4"/>
     <use href="#mf14c53ed57" x="225.72" y="194.3304" style="fill: #1f77b4; stroke: #1f77b4"/>
     <use href="#mf14c53ed57" x="225.72" y="198.9024" style="fill: #1f77b4; stroke: #1f77b4"/>
     <use href="#mf14c53ed57" x="227.04" y="182.8992" style="fill: #1f77b4; stroke: #1f77b4"/>
     <use href="#mf14c53ed57" x="227.04" y="187.4712" style="fill: #1f77b4; stroke: #1f77b4"/>
     <use href="#mf14c53ed57" x="227.04" y="192.0432" style="fill: #1f77b4; stroke: #1f77b4"/>
     <use href="#mf14c53ed57" x="227.04" y="196.6176" style="fill: #1f77b4; stroke: #1f77b4"/>
     <use href="#mf14c53ed57" x="228.36" y="180.612" style="fill: #1f77b4; stroke: #1f77b4"/>
     <use href="#mf14c53ed57" x="228.36" y="185.1864" style="fill: #1f77b4; stroke: #1f77b4"/>
     <use href="#mf14c53ed57" x="228.36" y="189.7584" style="fill: #1f77b4; stroke: #1f77b4"/>
     <use href="#mf14c53ed57" x="228.36" y="194.3304" style="fill: #1f77b4; stroke: #1f77b4"/>
     <use href="#mf14c53ed57" x="228.36" y="198.9024" style="fill: #1f77b4; stroke: #1f77b4"/>
     <use href="#mf14c53ed57" x="229.68" y="178.3272" style="fill: #1f77b4; stroke: #1f77b4"/>
     <use href="#mf14c53ed57" x="229.68" y="182.8992" style="fill: #1f77b4; stroke: #1f77b4"/>
     <use href="#mf14c53ed57" x="229.68" y="187.4712" style="fill: #1f77b4; stroke: #1f77b4"/>
     <use href="#mf14c53ed57" x="229.68" y="192.0432" style="fill: #1f77b4; stroke: #1f77b4"/>
     <use href="#mf14c53ed57" x="229.68" y="196.6176" style="fill: #1f77b4; stroke: #1f77b4"/>
     <use href="#mf14c53ed57" x="231" y="180.612" style="fill: #1f77b4; stroke: #1f77b4"/>
     <use href="#mf14c53ed57" x="231" y="185.1864" style="fill: #1f77b4; stroke: #1f77b4"/>
     <use href="#mf14c53ed57" x="231" y="189.7584" style="fill: #1f77b4; stroke: #1f77b4"/>
     <use href="#mf14c53ed57" x="231" y="194.3304" style="fill: #1f77b4; stroke: #1f77b4"/>
     <use href="#mf14c53ed57" x="231" y="198.9024" style="fill: #1f77b4; stroke: #1f77b4"/>
     <use href="#mf14c53ed57" x="232.32" y="178.3272" style="fill: #1f77b4; stroke: #1f77b4"/>
     <use href="#mf14c53ed57" x="232.32" y="182.8992" style="fill: #1f77b4; stroke: #1f77b4"/>
     <use href="#mf14c53ed57" x="232.32" y="187.4712" style="fill: #1f77b4; stroke: #1f77b4"/>
     <use href="#mf14c53ed57" x="232.32" y="192.0432" style="fill: #1f77b4; stroke: #1f77b4"/>
     <use href="#mf14c53ed57" x="232.32" y="196.6176" style="fill: #1f77b4; stroke: #1f77b4"/>
     <use href="#mf14c53ed57" x="233.64" y="171.468" style="fill: #1f77b4; stroke: #1f77b4"/>
     <use href="#mf14c53ed57" x="233.64" y="176.04" style="fill: #1f77b4; stroke: #1f77b4"/>
     <use href="#mf14c53ed57" x="233.64" y="180.612" style="fill: #1f77b4; stroke: #1f77b4"/>
     <use href="#mf14c53ed57" x="233.64" y="185.1864" style="fill: #1f77b4; stroke: #1f77b4"/>
     <use href="#mf14c53ed57" x="233.64" y="189.7584" style="fill: #1f77b4; stroke: #1f77b4"/>
     <use href="#mf14c53ed57" x="233.64" y="194.3304" style="fill: #1f77b4; stroke: #1f77b4"/>
     <use href="#mf14c53ed57" x="233.64" y="198.9024" style="fill: #1f77b4; stroke: #1f77b4"/>
     <use href="#mf14c53ed57" x="234.96" y="169.1808" style="fill: #1f77b4; stroke: #1f77b4"/>
     <use href="#mf14c53ed57" x="234.96" y="173.7552" style="fill: #1f77b4; stroke: #1f77b4"/>
     <use href="#mf14c53ed57" x="234.96" y="178.3272" style="fill: #1f77b4; stroke: #1f77b4"/>
     <use href="#mf14c53ed57" x="234.96" y="182.8992" style="fill: #1f77b4; stroke: #1f77b4"/>
     <use href="#mf14c53ed57" x="234.96" y="187.4712" style="fill: #1f77b4; stroke: #1f77b4"/>
     <use href="#mf14c53ed57" x="234.96" y="192.0432" style="fill: #1f77b4; stroke: #1f77b4"/>
     <use href="#mf14c53ed57" x="234.96" y="196.6176" style="fill: #1f77b4; stroke: #1f77b4"/>
     <use href="#mf14c53ed57" x="236.28" y="166.896" style="fill: #1f77b4; stroke: #1f77b4"/>
     <use href="#mf14c53ed57" x="236.28" y="171.468" style="fill: #1f77b4; stroke: #1f77b4"/>
     <use href="#mf14c53ed57" x="236.28" y="176.04" style="fill: #1f77b4; stroke: #1f77b4"/>
     <use href="#mf14c53ed57" x="236.28" y="180.612" style="fill: #1f77b4; stroke: #1f77b4"/>
     <use href="#mf14c53ed57" x="236.28" y="185.1864" style="fill: #1f77b4; stroke: #1f77b4"/>
     <use href="#mf14c53ed57" x="236.28" y="189.7584" style="fill: #1f77b4; stroke: #1f77b4"/>
     <use href="#mf14c53ed57" x="236.28" y="194.3304" style="fill: #1f77b4; stroke: #1f77b4"/>
     <use href="#mf14c53ed57" x="236.28" y="198.9024" style="fill: #1f77b4; stroke: #1f77b4"/>
     <use href="#mf14c53ed57" x="237.6" y="137.1744" style="fill: #1f77b4; stroke: #1f77b4"/>
     <use href="#mf14c53ed57" x="237.6" y="164.6088" style="fill: #1f77b4; stroke: #1f77b4"/>
     <use href="#mf14c53ed57" x="237.6" y="169.1808" style="fill: #1f77b4; stroke: #1f77b4"/>
     <use href="#mf14c53ed57" x="237.6" y="173.7552" style="fill: #1f77b4; stroke: #1f77b4"/>
     <use href="#mf14c53ed57" x="237.6" y="178.3272" style="fill: #1f77b4; stroke: #1f77b4"/>
     <use href="#mf14c53ed57" x="237.6" y="182.8992" style="fill: #1f77b4; stroke: #1f77b4"/>
     <use href="#mf14c53ed57" x="237.6" y="187.4712" style="fill: #1f77b4; stroke: #1f77b4"/>
     <use href="#mf14c53ed57" x="237.6" y="192.0432" style="fill: #1f77b4; stroke: #1f77b4"/>
     <use href="#mf14c53ed57" x="238.92" y="139.4616" style="fill: #1f77b4; stroke: #1f77b4"/>
     <use href="#mf14c53ed57" x="238.92" y="162.324" style="fill: #1f77b4; stroke: #1f77b4"/>
     <use href="#mf14c53ed57" x="238.92" y="166.896" style="fill: #1f77b4; stroke: #1f77b4"/>
     <use href="#mf14c53ed57" x="238.92" y="171.468" style="fill: #1f77b4; stroke: #1f77b4"/>
     <use href="#mf14c53ed57" x="238.92" y="176.04" style="fill: #1f77b4; stroke: #1f77b4"/>
     <use href="#mf14c53ed57" x="238.92" y="180.612" style="fill: #1f77b4; stroke: #1f77b4"/>
     <use href="#mf14c53ed57" x="238.92" y="185.1864" style="fill: #1f77b4; stroke: #1f77b4"/>
     <use href="#mf14c53ed57" x="238.92" y="189.7584" style="fill: #1f77b4; stroke: #1f77b4"/>
     <use href="#mf14c53ed57" x="240.24" y="137.1744" style="fill: #1f77b4; stroke: #1f77b4"/>
     <use href="#mf14c53ed57" x="240.24" y="155.4648" style="fill: #1f77b4; stroke: #1f77b4"/>
     <use href="#mf14c53ed57" x="240.24" y="160.0368" style="fill: #1f77b4; stroke: #1f77b4"/>
     <use href="#mf14c53ed57" x="240.24" y="164.6088" style="fill: #1f77b4; stroke: #1f77b4"/>
     <use href="#mf14c53ed57" x="240.24" y="169.1808" style="fill: #1f77b4; stroke: #1f77b4"/>
     <use href="#mf14c53ed57" x="240.24" y="173.7552" style="fill: #1f77b4; stroke: #1f77b4"/>
     <use href="#mf14c53ed57" x="240.24" y="178.3272" style="fill: #1f77b4; stroke: #1f77b4"/>
     <use href="#mf14c53ed57" x="240.24" y="182.8992" style="fill: #1f77b4; stroke: #1f77b4"/>
     <use href="#mf14c53ed57" x="240.24" y="187.4712" style="fill: #1f77b4; stroke: #1f77b4"/>
     <use href="#mf14c53ed57" x="240.24" y="192.0432" style="fill: #1f77b4; stroke: #1f77b4"/>
     <use href="#mf14c53ed57" x="241.56" y="139.4616" style="fill: #1f77b4; stroke: #1f77b4"/>
     <use href="#mf14c53ed57" x="241.56" y="157.7496" style="fill: #1f77b4; stroke: #1f77b4"/>
     <use href="#mf14c53ed57" x="241.56" y="162.324" style="fill: #1f77b4; stroke: #1f77b4"/>
     <use href="#mf14c53ed57" x="241.56" y="166.896" style="fill: #1f77b4; stroke: #1f77b4"/>
     <use href="#mf14c53ed57" x="241.56" y="171.468" style="fill: #1f77b4; stroke: #1f77b4"/>
     <use href="#mf14c53ed57" x="241.56" y="176.04" style="fill: #1f77b4; stroke: #1f77b4"/>
     <use href="#mf14c53ed57" x="241.56" y="180.612" style="fill: #1f77b4; stroke: #1f77b4"/>
     <use href="#mf14c53ed57" x="241.56" y="185.1864" style="fill: #1f77b4; stroke: #1f77b4"/>
     <use href="#mf14c53ed57" x="241.56" y="189.7584" style="fill: #1f77b4; stroke: #1f77b4"/>
     <use href="#mf14c53ed57" x="242.88" y="137.1744" style="fill: #1f77b4; stroke: #1f77b4"/>
     <use href="#mf14c53ed57" x="242.88" y="155.4648" style="fill: #1f77b4; stroke: #1f77b4"/>
     <use href="#mf14c53ed57" x="242.88" y="160.0368" style="fill: #1f77b4; stroke: #1f77b4"/>
     <use href="#mf14c53ed57" x="242.88" y="164.6088" style="fill: #1f77b4; stroke: #1f77b4"/>
     <use href="#mf14c53ed57" x="242.88" y="169.1808" style="fill: #1f77b4; stroke: #1f77b4"/>
     <use href="#mf14c53ed57" x="242.88" y="173.7552" style="fill: #1f77b4; stroke: #1f77b4"/>
     <use href="#mf14c53ed57" x="242.88" y="178.3272" style="fill: #1f77b4; stroke: #1f77b4"/>
     <use href="#mf14c53ed57" x="242.88" y="182.8992" style="fill: #1f77b4; stroke: #1f77b4"/>
     <use href="#mf14c53ed57" x="242.88" y="187.4712" style="fill: #1f77b4; stroke: #1f77b4"/>
     <use href="#mf14c53ed57" x="242.88" y="192.0432" style="fill: #1f77b4; stroke: #1f77b4"/>
     <use href="#mf14c53ed57" x="244.2" y="139.4616" style="fill: #1f77b4; stroke: #1f77b4"/>
     <use href="#mf14c53ed57" x="244.2" y="157.7496" style="fill: #1f77b4; stroke: #1f77b4"/>
     <use href="#mf14c53ed57" x="244.2" y="162.324" style="fill: #1f77b4; stroke: #1f77b4"/>
     <use href="#mf14c53ed57" x="244.2" y="166.896" style="fill: #1f77b4; stroke: #1f77b4"/>
     <use href="#mf14c53ed57" x="244.2" y="171.468" style="fill: #1f77b4; stroke: #1f77b4"/>
     <use href="#mf14c53ed57" x="244.2" y="176.04" style="fill: #1f77b4; stroke: #1f77b4"/>
     <use href="#mf14c53ed57" x="244.2" y="180.612" style="fill: #1f77b4; stroke: #1f77b4"/>
     <use href="#mf14c53ed57" x="244.2" y="185.1864" style="fill: #1f77b4; stroke: #1f77b4"/>
     <use href="#mf14c53ed57" x="244.2" y="189.7584" style="fill: #1f77b4; stroke: #1f77b4"/>
     <use href="#mf14c53ed57" x="245.52" y="137.1744" style="fill: #1f77b4; stroke: #1f77b4"/>
     <use href="#mf14c53ed57" x="245.52" y="155.4648" style="fill: #1f77b4; stroke: #1f77b4"/>
     <use href="#mf14c53ed57" x="245.52" y="160.0368" style="fill: #1f77b4; stroke: #1f77b4"/>
     <use href="#mf14c53ed57" x="245.52" y="164.6088" style="fill: #1f77b4; stroke: #1f77b4"/>
     <use href="#mf14c53ed57" x="245.52" y="169.1808" style="fill: #1f77b4; stroke: #1f77b4"/>
     <use href="#mf14c53ed57" x="245.52" y="173.7552" style="fill: #1f77b4; stroke: #1f77b4"/>
     <use href="#mf14c53ed57" x="245.52" y="178.3272" style="fill: #1f77b4; stroke: #1f77b4"/>
     <use href="#mf14c53ed57" x="245.52" y="182.8992" style="fill: #1f77b4; stroke: #1f77b4"/>
     <use href="#mf14c53ed57" x="245.52" y="187.4712" style="fill: #1f77b4; stroke: #1f77b4"/>
     <use href="#mf14c53ed57" x="245.52" y="192.0432" style="fill: #1f77b4; stroke: #1f77b4"/>
     <use href="#mf14c53ed57" x="246.84" y="139.4616" style="fill: #1f77b4; stroke: #1f77b4"/>
     <use href="#mf14c53ed57" x="246.84" y="157.7496" style="fill: #1f77b4; stroke: #1f77b4"/>
     <use href="#mf14c53ed57" x="246.84" y="162.324" style="fill: #1f77b4; stroke: #1f77b4"/>
     <use href="#mf14c53ed57" x="246.84" y="166.896" style="fill: #1f77b4; stroke: #1f77b4"/>
     <use href="#mf14c53ed57" x="246.84" y="171.468" style="fill: #1f77b4; stroke: #1f77b4"/>
     <use href="#mf14c53ed57" x="246.84" y="176.04" style="fill: #1f77b4; stroke: #1f77b4"/>
     <use href="#mf14c53ed57" x="246.84" y="180.612" style="fill: #1f77b4; stroke: #1f77b4"/>
     <use href="#mf14c53ed57" x="246.84" y="185.1864" style="fill: #1f77b4; stroke: #1f77b4"/>
     <use href="#mf14c53ed57" x="246.84" y="189.7584" style="fill: #1f77b4; stroke: #1f77b4"/>
     <use href="#mf14c53ed57" x="246.84" y="194.3304" style="fill: #1f77b4; stroke: #1f77b4"/>
     <use href="#mf14c53ed57" x="248.16" y="137.1744" style="fill: #1f77b4; stroke: #1f77b4"/>
     <use href="#mf14c53ed57" x="248.16" y="141.7464" style="fill: #1f77b4; stroke: #1f77b4"/>
     <use href="#mf14c53ed57" x="248.16" y="146.3184" style="fill: #1f77b4; stroke: #1f77b4"/>
     <use href="#mf14c53ed57" x="248.16" y="150.8928" style="fill: #1f77b4; stroke: #1f77b4"/>
     <use href="#mf14c53ed57" x="248.16" y="155.4648" style="fill: #1f77b4; stroke: #1f77b4"/>
     <use href="#mf14c53ed57" x="248.16" y="160.0368" style="fill: #1f77b4; stroke: #1f77b4"/>
     <use href="#mf14c53ed57" x="248.16" y="164.6088" style="fill: #1f77b4; stroke: #1f77b4"/>
     <use href="#mf14c53ed57" x="248.16" y="169.1808" style="fill: #1f77b4; stroke: #1f77b4"/>
     <use href="#mf14c53ed57" x="248.16" y="173.7552" style="fill: #1f77b4; stroke: #1f77b4"/>
     <use href="#mf14c53ed57" x="248.16" y="178.3272" style="fill: #1f77b4; stroke: #1f77b4"/>
     <use href="#mf14c53ed57" x="248.16" y="182.8992" style="fill: #1f77b4; stroke: #1f77b4"/>
     <use href="#mf14c53ed57" x="248.16" y="187.4712" style="fill: #1f77b4; stroke: #1f77b4"/>
     <use href="#mf14c53ed57" x="248.16" y="192.0432" style="fill: #1f77b4; stroke: #1f77b4"/>
     <use href="#mf14c53ed57" x="248.16" y="196.6176" style="fill: #1f77b4; stroke: #1f77b4"/>
     <use href="#mf14c53ed57" x="249.48" y="139.4616" style="fill: #1f77b4; stroke: #1f77b4"/>
     <use href="#mf14c53ed57" x="249.48" y="144.0336" style="fill: #1f77b4; stroke: #1f77b4"/>
     <use href="#mf14c53ed57" x="249.48" y="148.6056" style="fill: #1f77b4; stroke: #1f77b4"/>
     <use href="#mf14c53ed57" x="249.48" y="153.1776" style="fill: #1f77b4; stroke: #1f77b4"/>
     <use href="#mf14c53ed57" x="249.48" y="157.7496" style="fill: #1f77b4; stroke: #1f77b4"/>
     <use href="#mf14c53ed57" x="249.48" y="162.324" style="fill: #1f77b4; stroke: #1f77b4"/>
     <use href="#mf14c53ed57" x="249.48" y="166.896" style="fill: #1f77b4; stroke: #1f77b4"/>
     <use href="#mf14c53ed57" x="249.48" y="171.468" style="fill: #1f77b4; stroke: #1f77b4"/>
     <use href="#mf14c53ed57" x="249.48" y="176.04" style="fill: #1f77b4; stroke: #1f77b4"/>
     <use href="#mf14c53ed57" x="249.48" y="180.612" style="fill: #1f77b4; stroke: #1f77b4"/>
     <use href="#mf14c53ed57" x="249.48" y="185.1864" style="fill: #1f77b4; stroke: #1f77b4"/>
     <use href="#mf14c53ed57" x="249.48" y="189.7584" style="fill: #1f77b4; stroke: #1f77b4"/>
     <use href="#mf14c53ed57" x="249.48" y="194.3304" style="fill: #1f77b4; stroke: #1f77b4"/>
     <use href="#mf14c53ed57" x="249.48" y="198.9024" style="fill: #1f77b4; stroke: #1f77b4"/>
     <use href="#mf14c53ed57" x="250.8" y="137.1744" style="fill: #1f77b4; stroke: #1f77b4"/>
     <use href="#mf14c53ed57" x="250.8" y="141.7464" style="fill: #1f77b4; stroke: #1f77b4"/>
     <use href="#mf14c53ed57" x="250.8" y="146.3184" style="fill: #1f77b4; stroke: #1f77b4"/>
     <use href="#mf14c53ed57" x="250.8" y="150.8928" style="fill: #1f77b4; stroke: #1f77b4"/>
     <use href="#mf14c53ed57" x="250.8" y="155.4648" style="fill: #1f77b4; stroke: #1f77b4"/>
     <use href="#mf14c53ed57" x="250.8" y="160.0368" style="fill: #1f77b4; stroke: #1f77b4"/>
     <use href="#mf14c53ed57" x="250.8" y="164.6088" style="fill: #1f77b4; stroke: #1f77b4"/>
     <use href="#mf14c53ed57" x="250.8" y="169.1808" style="fill: #1f77b4; stroke: #1f77b4"/>
     <use href="#mf14c53ed57" x="250.8" y="173.7552" style="fill: #1f77b4; stroke: #1f77b4"/>
     <use href="#mf14c53ed57" x="250.8" y="178.3272" style="fill: #1f77b4; stroke: #1f77b4"/>
     <use href="#mf14c53ed57" x="250.8" y="182.8992" style="fill: #1f77b4; stroke: #1f77b4"/>
     <use href="#mf14c53ed57" x="250.8" y="187.4712" style="fill: #1f77b4; stroke: #1f77b4"/>
     <use href="#mf14c53ed57" x="250.8" y="192.0432" style="fill: #1f77b4; stroke: #1f77b4"/>
     <use href="#mf14c53ed57" x="250.8" y="196.6176" style="fill: #1f77b4; stroke: #1f77b4"/>
     <use href="#mf14c53ed57" x="252.12" y="139.4616" style="fill: #1f77b4; stroke: #1f77b4"/>
     <use href="#mf14c53ed57" x="252.12" y="144.0336" style="fill: #1f77b4; stroke: #1f77b4"/>
     <use href="#mf14c53ed57" x="252.12" y="148.6056" style="fill: #1f77b4; stroke: #1f77b4"/>
     <use href="#mf14c53ed57" x="252.12" y="153.1776" style="fill: #1f77b4; stroke: #1f77b4"/>
     <use href="#mf14c53ed57" x="252.12" y="157.7496" style="fill: #1f77b4; stroke: #1f77b4"/>
     <use href="#mf14c53ed57" x="252.12" y="162.324" style="fill: #1f77b4; stroke: #1f77b4"/>
     <use href="#mf14c53ed57" x="252.12" y="166.896" style="fill: #1f77b4; stroke: #1f77b4"/>
     <use href="#mf14c53ed57" x="252.12" y="171.468" style="fill: #1f77b4; stroke: #1f77b4"/>
     <use href="#mf14c53ed57" x="252.12" y="176.04" style="fill: #1f77b4; stroke: #1f77b4"/>
     <use href="#mf14c53ed57" x="252.12" y="180.612" style="fill: #1f77b4; stroke: #1f77b4"/>
     <use href="#mf14c53ed57" x="252.12" y="185.1864" style="fill: #1f77b4; stroke: #1f77b4"/>
     <use href="#mf14c53ed57" x="252.12" y="189.7584" style="fill: #1f77b4; stroke: #1f77b4"/>
     <use href="#mf14c53ed57" x="252.12" y="194.3304" style="fill: #1f77b4; stroke: #1f77b4"/>
     <use href="#mf14c53ed57" x="252.12" y="198.9024" style="fill: #1f77b4; stroke: #1f77b4"/>
     <use href="#mf14c53ed57" x="253.44" y="137.1744" style="fill: #1f77b4; stroke: #1f77b4"/>
     <use href="#mf14c53ed57" x="253.44" y="141.7464" style="fill: #1f77b4; stroke: #1f77b4"/>
     <use href="#mf14c53ed57" x="253.44" y="146.3184" style="fill: #1f77b4; stroke: #1f77b4"/>
     <use href="#mf14c53ed57" x="253.44" y="150.8928" style="fill: #1f77b4; stroke: #1f77b4"/>
     <use href="#mf14c53ed57" x="253.44" y="155.4648" style="fill: #1f77b4; stroke: #1f77b4"/>
     <use href="#mf14c53ed57" x="253.44" y="160.0368" style="fill: #1f77b4; stroke: #1f77b4"/>
     <use href="#mf14c53ed57" x="253.44" y="164.6088" style="fill: #1f77b4; stroke: #1f77b4"/>
     <use href="#mf14c53ed57" x="253.44" y="169.1808" style="fill: #1f77b4; stroke: #1f77b4"/>
     <use href="#mf14c53ed57" x="253.44" y="173.7552" style="fill: #1f77b4; stroke: #1f77b4"/>
     <use href="#mf14c53ed57" x="253.44" y="178.3272" style="fill: #1f77b4; stroke: #1f77b4"/>
     <use href="#mf14c53ed57" x="253.44" y="182.8992" style="fill: #1f77b4; stroke: #1f77b4"/>
     <use href="#mf14c53ed57" x="253.44" y="187.4712" style="fill: #1f77b4; stroke: #1f77b4"/>
     <use href="#mf14c53ed57" x="253.44" y="192.0432" style="fill: #1f77b4; stroke: #1f77b4"/>
     <use href="#mf14c53ed57" x="253.44" y="196.6176" style="fill: #1f77b4; stroke: #1f77b4"/>
     <use href="#mf14c53ed57" x="254.76" y="134.8872" style="fill: #1f77b4; stroke: #1f77b4"/>
     <use href="#mf14c53ed57" x="254.76" y="139.4616" style="fill: #1f77b4; stroke: #1f77b4"/>
     <use href="#mf14c53ed57" x="254.76" y="144.0336" style="fill: #1f77b4; stroke: #1f77b4"/>
     <use href="#mf14c53ed57" x="254.76" y="148.6056" style="fill: #1f77b4; stroke: #1f77b4"/>
     <use href="#mf14c53ed57" x="254.76" y="153.1776" style="fill: #1f77b4; stroke: #1f77b4"/>
     <use href="#mf14c53ed57" x="254.76" y="157.7496" style="fill: #1f77b4; stroke: #1f77b4"/>
     <use href="#mf14c53ed57" x="254.76" y="162.324" style="fill: #1f77b4; stroke: #1f77b4"/>
     <use href="#mf14c53ed57" x="254.76" y="166.896" style="fill: #1f77b4; stroke: #1f77b4"/>
     <use href="#mf14c53ed57" x="254.76" y="171.468" style="fill: #1f77b4; stroke: #1f77b4"/>
     <use href="#mf14c53ed57" x="254.76" y="176.04" style="fill: #1f77b4; stroke: #1f77b4"/>
     <use href="#mf14c53ed57" x="254.76" y="180.612" style="fill: #1f77b4; stroke: #1f77b4"/>
     <use href="#mf14c53ed57" x="254.76" y="185.1864" style="fill: #1f77b4; stroke: #1f77b4"/>
     <use href="#mf14c53ed57" x="254.76" y="189.7584" style="fill: #1f77b4; stroke: #1f77b4"/>
     <use href="#mf14c53ed57" x="254.76" y="194.3304" style="fill: #1f77b4; stroke: #1f77b4"/>
     <use href="#mf14c53ed57" x="256.08" y="137.1744" style="fill: #1f77b4; stroke: #1f77b4"/>
     <use href="#mf14c53ed57" x="256.08" y="141.7464" style="fill: #1f77b4; stroke: #1f77b4"/>
     <use href="#mf14c53ed57" x="256.08" y="146.3184" style="fill: #1f77b4; stroke: #1f77b4"/>
     <use href="#mf14c53ed57" x="256.08" y="150.8928" style="fill: #1f77b4; stroke: #1f77b4"/>
     <use href="#mf14c53ed57" x="256.08" y="155.4648" style="fill: #1f77b4; stroke: #1f77b4"/>
     <use href="#mf14c53ed57" x="256.08" y="160.0368" style="fill: #1f77b4; stroke: #1f77b4"/>
     <use href="#mf14c53ed57" x="256.08" y="164.6088" style="fill: #1f77b4; stroke: #1f77b4"/>
     <use href="#mf14c53ed57" x="256.08" y="169.1808" style="fill: #1f77b4; stroke: #1f77b4"/>
     <use href="#mf14c53ed57" x="256.08" y="173.7552" style="fill: #1f77b4; stroke: #1f77b4"/>
     <use href="#mf14c53ed57" x="256.08" y="178.3272" style="fill: #1f77b4; stroke: #1f77b4"/>
     <use href="#mf14c53ed57" x="256.08" y="182.8992" style="fill: #1f77b4; stroke: #1f77b4"/>
     <use href="#mf14c53ed57" x="256.08" y="187.4712" style="fill: #1f77b4; stroke: #1f77b4"/>
     <use href="#mf14c53ed57" x="256.08" y="192.0432" style="fill: #1f77b4; stroke: #1f77b4"/>
     <use href="#mf14c53ed57" x="256.08" y="196.6176" style="fill: #1f77b4; stroke: #1f77b4"/>
     <use href="#mf14c53ed57" x="257.4" y="134.8872" style="fill: #1f77b4; stroke: #1f77b4"/>
     <use href="#mf14c53ed57" x="257.4" y="139.4616" style="fill: #1f77b4; stroke: #1f77b4"/>
     <use href="#mf14c53ed57" x="257.4" y="144.0336" style="fill: #1f77b4; stroke: #1f77b4"/>
     <use href="#mf14c53ed57" x="257.4" y="148.6056" style="fill: #1f77b4; stroke: #1f77b4"/>
     <use href="#mf14c53ed57" x="257.4" y="153.1776" style="fill: #1f77b4; stroke: #1f77b4"/>
     <use href="#mf14c53ed57" x="257.4" y="157.7496" style="fill: #1f77b4; stroke: #1f77b4"/>
     <use href="#mf14c53ed57" x="257.4" y="162.324" style="fill: #1f77b4; stroke: #1f77b4"/>
     <use href="#mf14c53ed57" x="257.4" y="166.896" style="fill: #1f77b4; stroke: #1f77b4"/>
     <use href="#mf14c53ed57" x="257.4" y="171.468" style="fill: #1f77b4; stroke: #1f77b4"/>
     <use href="#mf14c53ed57" x="257.4" y="176.04" style="fill: #1f77b4; stroke: #1f77b4"/>
     <use href="#mf14c53ed57" x="257.4" y="180.612" style="fill: #1f77b4; stroke: #1f77b4"/>
     <use href="#mf14c53ed57" x="257.4" y="185.1864" style="fill: #1f77b4; stroke: #1f77b4"/>
     <use href="#mf14c53ed57" x="257.4" y="189.7584" style="fill: #1f77b4; stroke: #1f77b4"/>
     <use href="#mf14c53ed57" x="257.4" y="194.3304" style="fill: #1f77b4; stroke: #1f77b4"/>
     <use href="#mf14c53ed57" x="258.72" y="137.1744" style="fill: #1f77b4; stroke: #1f77b4"/>
     <use href="#mf14c53ed57" x="258.72" y="141.7464" style="fill: #1f77b4; stroke: #1f77b4"/>
     <use href="#mf14c53ed57" x="258.72" y="146.3184" style="fill: #1f77b4; stroke: #1f77b4"/>
     <use href="#mf14c53ed57" x="258.72" y="150.8928" style="fill: #1f77b4; stroke: #1f77b4"/>
     <use href="#mf14c53ed57" x="258.72" y="155.4648" style="fill: #1f77b4; stroke: #1f77b4"/>
     <use href="#mf14c53ed57" x="258.72" y="160.0368" style="fill: #1f77b4; stroke: #1f77b4"/>
     <use href="#mf14c53ed57" x="258.72" y="164.6088" style="fill: #1f77b4; stroke: #1f77b4"/>
     <use href="#mf14c53ed57" x="258.72" y="169.1808" style="fill: #1f77b4; stroke: #1f77b4"/>
     <use href="#mf14c53ed57" x="258.72" y="173.7552" style="fill: #1f77b4; stroke: #1f77b4"/>
     <use href="#mf14c53ed57" x="258.72" y="178.3272" style="fill: #1f77b4; stroke: #1f77b4"/>
     <use href="#mf14c53ed57" x="258.72" y="182.8992" style="fill: #1f77b4; stroke: #1f77b4"/>
     <use href="#mf14c53ed57" x="258.72" y="187.4712" style="fill: #1f77b4; stroke: #1f77b4"/>
     <use href="#mf14c53ed57" x="258.72" y="192.0432" style="fill: #1f77b4; stroke: #1f77b4"/>
     <use href="#mf14c53ed57" x="258.72" y="196.6176" style="fill: #1f77b4; stroke: #1f77b4"/>
     <use href="#mf14c53ed57" x="260.04" y="134.8872" style="fill: #1f77b4; stroke: #1f77b4"/>
     <use href="#mf14c53ed57" x="260.04" y="139.4616" style="fill: #1f77b4; stroke: #1f77b4"/>
     <use href="#mf14c53ed57" x="260.04" y="144.0336" style="fill: #1f77b4; stroke: #1f77b4"/>
     <use href="#mf14c53ed57" x="260.04" y="148.6056" style="fill: #1f77b4; stroke: #1f77b4"/>
     <use href="#mf14c53ed57" x="260.04" y="153.1776" style="fill: #1f77b4; stroke: #1f77b4"/>
     <use href="#mf14c53ed57" x="260.04" y="157.7496" style="fill: #1f77b4; stroke: #1f77b4"/>
     <use href="#mf14c53ed57" x="260.04" y="162.324" style="fill: #1f77b4; stroke: #1f77b4"/>
     <use href="#mf14c53ed57" x="260.04" y="166.896" style="fill: #1f77b4; stroke: #1f77b4"/>
     <use href="#mf14c53ed57" x="260.04" y="171.468" style="fill: #1f77b4; stroke: #1f77b4"/>
     <use href="#mf14c53ed57" x="260.04" y="176.04" style="fill: #1f77b4; stroke: #1f77b4"/>
     <use href="#mf14c53ed57" x="260.04" y="180.612" style="fill: #1f77b4; stroke: #1f77b4"/>
     <use href="#mf14c53ed57" x="260.04" y="185.1864" style="fill: #1f77b4; stroke: #1f77b4"/>
     <use href="#mf14c53ed57" x="260.04" y="189.7584" style="fill: #1f77b4; stroke: #1f77b4"/>
     <use href="#mf14c53ed57" x="260.04" y="194.3304" style="fill: #1f77b4; stroke: #1f77b4"/>
     <use href="#mf14c53ed57" x="261.36" y="128.0304" style="fill: #1f77b4; stroke: #1f77b4"/>
     <use href="#mf14c53ed57" x="261.36" y="137.1744" style="fill: #1f77b4; stroke: #1f77b4"/>
     <use href="#mf14c53ed57" x="261.36" y="141.7464" style="fill: #1f77b4; stroke: #1f77b4"/>
     <use href="#mf14c53ed57" x="261.36" y="146.3184" style="fill: #1f77b4; stroke: #1f77b4"/>
     <use href="#mf14c53ed57" x="261.36" y="150.8928" style="fill: #1f77b4; stroke: #1f77b4"/>
     <use href="#mf14c53ed57" x="261.36" y="155.4648" style="fill: #1f77b4; stroke: #1f77b4"/>
     <use href="#mf14c53ed57" x="261.36" y="160.0368" style="fill: #1f77b4; stroke: #1f77b4"/>
     <use href="#mf14c53ed57" x="261.36" y="164.6088" style="fill: #1f77b4; stroke: #1f77b4"/>
     <use href="#mf14c53ed57" x="261.36" y="169.1808" style="fill: #1f77b4; stroke: #1f77b4"/>
     <use href="#mf14c53ed57" x="261.36" y="173.7552" style="fill: #1f77b4; stroke: #1f77b4"/>
     <use href="#mf14c53ed57" x="261.36" y="178.3272" style="fill: #1f77b4; stroke: #1f77b4"/>
     <use href="#mf14c53ed57" x="261.36" y="182.8992" style="fill: #1f77b4; stroke: #1f77b4"/>
     <use href="#mf14c53ed57" x="261.36" y="187.4712" style="fill: #1f77b4; stroke: #1f77b4"/>
     <use href="#mf14c53ed57" x="261.36" y="192.0432" style="fill: #1f77b4; stroke: #1f77b4"/>
     <use href="#mf14c53ed57" x="261.36" y="196.6176" style="fill: #1f77b4; stroke: #1f77b4"/>
     <use href="#mf14c53ed57" x="262.68" y="139.4616" style="fill: #1f77b4; stroke: #1f77b4"/>
     <use href="#mf14c53ed57" x="262.68" y="144.0336" style="fill: #1f77b4; stroke: #1f77b4"/>
     <use href="#mf14c53ed57" x="262.68" y="148.6056" style="fill: #1f77b4; stroke: #1f77b4"/>
     <use href="#mf14c53ed57" x="262.68" y="153.1776" style="fill: #1f77b4; stroke: #1f77b4"/>
     <use href="#mf14c53ed57" x="262.68" y="157.7496" style="fill: #1f77b4; stroke: #1f77b4"/>
     <use href="#mf14c53ed57" x="262.68" y="162.324" style="fill: #1f77b4; stroke: #1f77b4"/>
     <use href="#mf14c53ed57" x="262.68" y="166.896" style="fill: #1f77b4; stroke: #1f77b4"/>
     <use href="#mf14c53ed57" x="262.68" y="171.468" style="fill: #1f77b4; stroke: #1f77b4"/>
     <use href="#mf14c53ed57" x="262.68" y="176.04" style="fill: #1f77b4; stroke: #1f77b4"/>
     <use href="#mf14c53ed57" x="262.68" y="180.612" style="fill: #1f77b4; stroke: #1f77b4"/>
     <use href="#mf14c53ed57" x="262.68" y="185.1864" style="fill: #1f77b4; stroke: #1f77b4"/>
     <use href="#mf14c53ed57" x="262.68" y="189.7584" style="fill: #1f77b4; stroke: #1f77b4"/>
     <use href="#mf14c53ed57" x="262.68" y="194.3304" style="fill: #1f77b4; stroke: #1f77b4"/>
     <use href="#mf14c53ed57" x="264" y="141.7464" style="fill: #1f77b4; stroke: #1f77b4"/>
     <use href="#mf14c53ed57" x="264" y="146.3184" style="fill: #1f77b4; stroke: #1f77b4"/>
     <use href="#mf14c53ed57" x="264" y="150.8928" style="fill: #1f77b4; stroke: #1f77b4"/>
     <use href="#mf14c53ed57" x="264" y="155.4648" style="fill: #1f77b4; stroke: #1f77b4"/>
     <use href="#mf14c53ed57" x="264" y="160.0368" style="fill: #1f77b4; stroke: #1f77b4"/>
     <use href="#mf14c53ed57" x="264" y="164.6088" style="fill: #1f77b4; stroke: #1f77b4"/>
     <use href="#mf14c53ed57" x="264" y="169.1808" style="fill: #1f77b4; stroke: #1f77b4"/>
     <use href="#mf14c53ed57" x="264" y="173.7552" style="fill: #1f77b4; stroke: #1f77b4"/>
     <use href="#mf14c53ed57" x="264" y="178.3272" style="fill: #1f77b4; stroke: #1f77b4"/>
     <use href="#mf14c53ed57" x="264" y="182.8992" style="fill: #1f77b4; stroke: #1f77b4"/>
     <use href="#mf14c53ed57" x="264" y="187.4712" style="fill: #1f77b4; stroke: #1f77b4"/>
     <use href="#mf14c53ed57" x="264" y="192.0432" style="fill: #1f77b4; stroke: #1f77b4"/>
     <use href="#mf14c53ed57" x="265.32" y="139.4616" style="fill: #1f77b4; stroke: #1f77b4"/>
     <use href="#mf14c53ed57" x="265.32" y="144.0336" style="fill: #1f77b4; stroke: #1f77b4"/>
     <use href="#mf14c53ed57" x="265.32" y="148.6056" style="fill: #1f77b4; stroke: #1f77b4"/>
     <use href="#mf14c53ed57" x="265.32" y="153.1776" style="fill: #1f77b4; stroke: #1f77b4"/>
     <use href="#mf14c53ed57" x="265.32" y="157.7496" style="fill: #1f77b4; stroke: #1f77b4"/>
     <use href="#mf14c53ed57" x="265.32" y="162.324" style="fill: #1f77b4; stroke: #1f77b4"/>
     <use href="#mf14c53ed57" x="265.32" y="166.896" style="fill: #1f77b4; stroke: #1f77b4"/>
     <use href="#mf14c53ed57" x="265.32" y="171.468" style="fill: #1f77b4; stroke: #1f77b4"/>
     <use href="#mf14c53ed57" x="265.32" y="176.04" style="fill: #1f77b4; stroke: #1f77b4"/>
     <use href="#mf14c53ed57" x="265.32" y="180.612" style="fill: #1f77b4; stroke: #1f77b4"/>
     <use href="#mf14c53ed57" x="265.32" y="185.1864" style="fill: #1f77b4; stroke: #1f77b4"/>
     <use href="#mf14c53ed57" x="265.32" y="189.7584" style="fill: #1f77b4; stroke: #1f77b4"/>
     <use href="#mf14c53ed57" x="265.32" y="194.3304" style="fill: #1f77b4; stroke: #1f77b4"/>
     <use href="#mf14c53ed57" x="266.64" y="141.7464" style="fill: #1f77b4; stroke: #1f77b4"/>
     <use href="#mf14c53ed57" x="266.64" y="146.3184" style="fill: #1f77b4; stroke: #1f77b4"/>
     <use href="#mf14c53ed57" x="266.64" y="150.8928" style="fill: #1f77b4; stroke: #1f77b4"/>
     <use href="#mf14c53ed57" x="266.64" y="155.4648" style="fill: #1f77b4; stroke: #1f77b4"/>
     <use href="#mf14c53ed57" x="266.64" y="160.0368" style="fill: #1f77b4; stroke: #1f77b4"/>
     <use href="#mf14c53ed57" x="266.64" y="164.6088" style="fill: #1f77b4; stroke: #1f77b4"/>
     <use href="#mf14c53ed57" x="266.64" y="169.1808" style="fill: #1f77b4; stroke: #1f77b4"/>
     <use href="#mf14c53ed57" x="266.64" y="173.7552" style="fill: #1f77b4; stroke: #1f77b4"/>
     <use href="#mf14c53ed57" x="266.64" y="182.8992" style="fill: #1f77b4; stroke: #1f77b4"/>
     <use href="#mf14c53ed57" x="266.64" y="187.4712" style="fill: #1f77b4; stroke: #1f77b4"/>
     <use href="#mf14c53ed57" x="267.96" y="139.4616" style="fill: #1f77b4; stroke: #1f77b4"/>
     <use href="#mf14c53ed57" x="267.96" y="148.6056" style="fill: #1f77b4; stroke: #1f77b4"/>
     <use href="#mf14c53ed57" x="267.96" y="153.1776" style="fill: #1f77b4; stroke: #1f77b4"/>
     <use href="#mf14c53ed57" x="267.96" y="157.7496" style="fill: #1f77b4; stroke: #1f77b4"/>
     <use href="#mf14c53ed57" x="267.96" y="162.324" style="fill: #1f77b4; stroke: #1f77b4"/>
     <use href="#mf14c53ed57" x="267.96" y="166.896" style="fill: #1f77b4; stroke: #1f77b4"/>
     <use href="#mf14c53ed57" x="267.96" y="171.468" style="fill: #1f77b4; stroke: #1f77b4"/>
     <use href="#mf14c53ed57" x="267.96" y="185.1864" style="fill: #1f77b4; stroke: #1f77b4"/>
     <use href="#mf14c53ed57" x="269.28" y="128.0304" style="fill: #1f77b4; stroke: #1f77b4"/>
     <use href="#mf14c53ed57" x="269.28" y="137.1744" style="fill: #1f77b4; stroke: #1f77b4"/>
     <use href="#mf14c53ed57" x="269.28" y="150.8928" style="fill: #1f77b4; stroke: #1f77b4"/>
     <use href="#mf14c53ed57" x="269.28" y="155.4648" style="fill: #1f77b4; stroke: #1f77b4"/>
     <use href="#mf14c53ed57" x="269.28" y="160.0368" style="fill: #1f77b4; stroke: #1f77b4"/>
     <use href="#mf14c53ed57" x="269.28" y="164.6088" style="fill: #1f77b4; stroke: #1f77b4"/>
     <use href="#mf14c53ed57" x="269.28" y="169.1808" style="fill: #1f77b4; stroke: #1f77b4"/>
     <use href="#mf14c53ed57" x="269.28" y="173.7552" style="fill: #1f77b4; stroke: #1f77b4"/>
     <use href="#mf14c53ed57" x="269.28" y="187.4712" style="fill: #1f77b4; stroke: #1f77b4"/>
     <use href="#mf14c53ed57" x="270.6" y="139.4616" style="fill: #1f77b4; stroke: #1f77b4"/>
     <use href="#mf14c53ed57" x="270.6" y="153.1776" style="fill: #1f77b4; stroke: #1f77b4"/>
     <use href="#mf14c53ed57" x="270.6" y="157.7496" style="fill: #1f77b4; stroke: #1f77b4"/>
     <use href="#mf14c53ed57" x="270.6" y="162.324" style="fill: #1f77b4; stroke: #1f77b4"/>
     <use href="#mf14c53ed57" x="270.6" y="166.896" style="fill: #1f77b4; stroke: #1f77b4"/>
     <use href="#mf14c53ed57" x="270.6" y="171.468" style="fill: #1f77b4; stroke: #1f77b4"/>
     <use href="#mf14c53ed57" x="270.6" y="185.1864" style="fill: #1f77b4; stroke: #1f77b4"/>
     <use href="#mf14c53ed57" x="271.92" y="128.0304" style="fill: #1f77b4; stroke: #1f77b4"/>
     <use href="#mf14c53ed57" x="271.92" y="132.6024" style="fill: #1f77b4; stroke: #1f77b4"/>
     <use href="#mf14c53ed57" x="271.92" y="137.1744" style="fill: #1f77b4; stroke: #1f77b4"/>
     <use href="#mf14c53ed57" x="271.92" y="150.8928" style="fill: #1f77b4; stroke: #1f77b4"/>
     <use href="#mf14c53ed57" x="271.92" y="155.4648" style="fill: #1f77b4; stroke: #1f77b4"/>
     <use href="#mf14c53ed57" x="271.92" y="160.0368" style="fill: #1f77b4; stroke: #1f77b4"/>
     <use href="#mf14c53ed57" x="271.92" y="164.6088" style="fill: #1f77b4; stroke: #1f77b4"/>
     <use href="#mf14c53ed57" x="271.92" y="169.1808" style="fill: #1f77b4; stroke: #1f77b4"/>
     <use href="#mf14c53ed57" x="271.92" y="173.7552" style="fill: #1f77b4; stroke: #1f77b4"/>
     <use href="#mf14c53ed57" x="273.24" y="130.3152" style="fill: #1f77b4; stroke: #1f77b4"/>
     <use href="#mf14c53ed57" x="273.24" y="134.8872" style="fill: #1f77b4; stroke: #1f77b4"/>
     <use href="#mf14c53ed57" x="273.24" y="139.4616" style="fill: #1f77b4; stroke: #1f77b4"/>
     <use href="#mf14c53ed57" x="273.24" y="153.1776" style="fill: #1f77b4; stroke: #1f77b4"/>
     <use href="#mf14c53ed57" x="273.24" y="157.7496" style="fill: #1f77b4; stroke: #1f77b4"/>
     <use href="#mf14c53ed57" x="273.24" y="162.324" style="fill: #1f77b4; stroke: #1f77b4"/>
     <use href="#mf14c53ed57" x="273.24" y="166.896" style="fill: #1f77b4; stroke: #1f77b4"/>
     <use href="#mf14c53ed57" x="273.24" y="171.468" style="fill: #1f77b4; stroke: #1f77b4"/>
     <use href="#mf14c53ed57" x="273.24" y="185.1864" style="fill: #1f77b4; stroke: #1f77b4"/>
     <use href="#mf14c53ed57" x="274.56" y="128.0304" style="fill: #1f77b4; stroke: #1f77b4"/>
     <use href="#mf14c53ed57" x="274.56" y="132.6024" style="fill: #1f77b4; stroke: #1f77b4"/>
     <use href="#mf14c53ed57" x="274.56" y="137.1744" style="fill: #1f77b4; stroke: #1f77b4"/>
     <use href="#mf14c53ed57" x="274.56" y="150.8928" style="fill: #1f77b4; stroke: #1f77b4"/>
     <use href="#mf14c53ed57" x="274.56" y="155.4648" style="fill: #1f77b4; stroke: #1f77b4"/>
     <use href="#mf14c53ed57" x="274.56" y="160.0368" style="fill: #1f77b4; stroke: #1f77b4"/>
     <use href="#mf14c53ed57" x="274.56" y="164.6088" style="fill: #1f77b4; stroke: #1f77b4"/>
     <use href="#mf14c53ed57" x="274.56" y="169.1808" style="fill: #1f77b4; stroke: #1f77b4"/>
     <use href="#mf14c53ed57" x="274.56" y="173.7552" style="fill: #1f77b4; stroke: #1f77b4"/>
     <use href="#mf14c53ed57" x="275.88" y="125.7432" style="fill: #1f77b4; stroke: #1f77b4"/>
     <use href="#mf14c53ed57" x="275.88" y="139.4616" style="fill: #1f77b4; stroke: #1f77b4"/>
     <use href="#mf14c53ed57" x="275.88" y="148.6056" style="fill: #1f77b4; stroke: #1f77b4"/>
     <use href="#mf14c53ed57" x="275.88" y="153.1776" style="fill: #1f77b4; stroke: #1f77b4"/>
     <use href="#mf14c53ed57" x="275.88" y="157.7496" style="fill: #1f77b4; stroke: #1f77b4"/>
     <use href="#mf14c53ed57" x="275.88" y="162.324" style="fill: #1f77b4; stroke: #1f77b4"/>
     <use href="#mf14c53ed57" x="275.88" y="166.896" style="fill: #1f77b4; stroke: #1f77b4"/>
     <use href="#mf14c53ed57" x="275.88" y="171.468" style="fill: #1f77b4; stroke: #1f77b4"/>
     <use href="#mf14c53ed57" x="275.88" y="176.04" style="fill: #1f77b4; stroke: #1f77b4"/>
     <use href="#mf14c53ed57" x="277.2" y="123.456" style="fill: #1f77b4; stroke: #1f77b4"/>
     <use href="#mf14c53ed57" x="277.2" y="137.1744" style="fill: #1f77b4; stroke: #1f77b4"/>
     <use href="#mf14c53ed57" x="277.2" y="141.7464" style="fill: #1f77b4; stroke: #1f77b4"/>
     <use href="#mf14c53ed57" x="277.2" y="146.3184" style="fill: #1f77b4; stroke: #1f77b4"/>
     <use href="#mf14c53ed57" x="277.2" y="150.8928" style="fill: #1f77b4; stroke: #1f77b4"/>
     <use href="#mf14c53ed57" x="277.2" y="155.4648" style="fill: #1f77b4; stroke: #1f77b4"/>
     <use href="#mf14c53ed57" x="277.2" y="160.0368" style="fill: #1f77b4; stroke: #1f77b4"/>
     <use href="#mf14c53ed57" x="277.2" y="164.6088" style="fill: #1f77b4; stroke: #1f77b4"/>
     <use href="#mf14c53ed57" x="277.2" y="169.1808" style="fill: #1f77b4; stroke: #1f77b4"/>
     <use href="#mf14c53ed57" x="277.2" y="173.7552" style="fill: #1f77b4; stroke: #1f77b4"/>
     <use href="#mf14c53ed57" x="277.2" y="178.3272" style="fill: #1f77b4; stroke: #1f77b4"/>
     <use href="#mf14c53ed57" x="277.2" y="182.8992" style="fill: #1f77b4; stroke: #1f77b4"/>
     <use href="#mf14c53ed57" x="278.52" y="121.1712" style="fill: #1f77b4; stroke: #1f77b4"/>
     <use href="#mf14c53ed57" x="278.52" y="139.4616" style="fill: #1f77b4; stroke: #1f77b4"/>
     <use href="#mf14c53ed57" x="278.52" y="144.0336" style="fill: #1f77b4; stroke: #1f77b4"/>
     <use href="#mf14c53ed57" x="278.52" y="148.6056" style="fill: #1f77b4; stroke: #1f77b4"/>
     <use href="#mf14c53ed57" x="278.52" y="153.1776" style="fill: #1f77b4; stroke: #1f77b4"/>
     <use href="#mf14c53ed57" x="278.52" y="157.7496" style="fill: #1f77b4; stroke: #1f77b4"/>
     <use href="#mf14c53ed57" x="278.52" y="162.324" style="fill: #1f77b4; stroke: #1f77b4"/>
     <use href="#mf14c53ed57" x="278.52" y="166.896" style="fill: #1f77b4; stroke: #1f77b4"/>
     <use href="#mf14c53ed57" x="278.52" y="171.468" style="fill: #1f77b4; stroke: #1f77b4"/>
     <use href="#mf14c53ed57" x="278.52" y="176.04" style="fill: #1f77b4; stroke: #1f77b4"/>
     <use href="#mf14c53ed57" x="278.52" y="180.612" style="fill: #1f77b4; stroke: #1f77b4"/>
     <use href="#mf14c53ed57" x="279.84" y="118.884" style="fill: #1f77b4; stroke: #1f77b4"/>
     <use href="#mf14c53ed57" x="279.84" y="123.456" style="fill: #1f77b4; stroke: #1f77b4"/>
     <use href="#mf14c53ed57" x="279.84" y="141.7464" style="fill: #1f77b4; stroke: #1f77b4"/>
     <use href="#mf14c53ed57" x="279.84" y="146.3184" style="fill: #1f77b4; stroke: #1f77b4"/>
     <use href="#mf14c53ed57" x="279.84" y="150.8928" style="fill: #1f77b4; stroke: #1f77b4"/>
     <use href="#mf14c53ed57" x="279.84" y="155.4648" style="fill: #1f77b4; stroke: #1f77b4"/>
     <use href="#mf14c53ed57" x="279.84" y="160.0368" style="fill: #1f77b4; stroke: #1f77b4"/>
     <use href="#mf14c53ed57" x="279.84" y="164.6088" style="fill: #1f77b4; stroke: #1f77b4"/>
     <use href="#mf14c53ed57" x="279.84" y="169.1808" style="fill: #1f77b4; stroke: #1f77b4"/>
     <use href="#mf14c53ed57" x="279.84" y="173.7552" style="fill: #1f77b4; stroke: #1f77b4"/>
     <use href="#mf14c53ed57" x="279.84" y="178.3272" style="fill: #1f77b4; stroke: #1f77b4"/>
     <use href="#mf14c53ed57" x="279.84" y="182.8992" style="fill: #1f77b4; stroke: #1f77b4"/>
     <use href="#mf14c53ed57" x="281.16" y="121.1712" style="fill: #1f77b4; stroke: #1f77b4"/>
     <use href="#mf14c53ed57" x="281.16" y="139.4616" style="fill: #1f77b4; stroke: #1f77b4"/>
     <use href="#mf14c53ed57" x="281.16" y="144.0336" style="fill: #1f77b4; stroke: #1f77b4"/>
     <use href="#mf14c53ed57" x="281.16" y="148.6056" style="fill: #1f77b4; stroke: #1f77b4"/>
     <use href="#mf14c53ed57" x="281.16" y="153.1776" style="fill: #1f77b4; stroke: #1f77b4"/>
     <use href="#mf14c53ed57" x="281.16" y="157.7496" style="fill: #1f77b4; stroke: #1f77b4"/>
     <use href="#mf14c53ed57" x="281.16" y="162.324" style="fill: #1f77b4; stroke: #1f77b4"/>
     <use href="#mf14c53ed57" x="281.16" y="166.896" style="fill: #1f77b4; stroke: #1f77b4"/>
     <use href="#mf14c53ed57" x="281.16" y="176.04" style="fill: #1f77b4; stroke: #1f77b4"/>
     <use href="#mf14c53ed57" x="281.16" y="180.612" style="fill: #1f77b4; stroke: #1f77b4"/>
     <use href="#mf14c53ed57" x="282.48" y="118.884" style="fill: #1f77b4; stroke: #1f77b4"/>
     <use href="#mf14c53ed57" x="282.48" y="123.456" style="fill: #1f77b4; stroke: #1f77b4"/>
     <use href="#mf14c53ed57" x="282.48" y="141.7464" style="fill: #1f77b4; stroke: #1f77b4"/>
     <use href="#mf14c53ed57" x="282.48" y="146.3184" style="fill: #1f77b4; stroke: #1f77b4"/>
     <use href="#mf14c53ed57" x="282.48" y="150.8928" style="fill: #1f77b4; stroke: #1f77b4"/>
     <use href="#mf14c53ed57" x="282.48" y="155.4648" style="fill: #1f77b4; stroke: #1f77b4"/>
     <use href="#mf14c53ed57" x="282.48" y="160.0368" style="fill: #1f77b4; stroke: #1f77b4"/>
     <use href="#mf14c53ed57" x="282.48" y="164.6088" style="fill: #1f77b4; stroke: #1f77b4"/>
     <use href="#mf14c53ed57" x="283.8" y="121.1712" style="fill: #1f77b4; stroke: #1f77b4"/>
     <use href="#mf14c53ed57" x="283.8" y="125.7432" style="fill: #1f77b4; stroke: #1f77b4"/>
     <use href="#mf14c53ed57" x="283.8" y="139.4616" style="fill: #1f77b4; stroke: #1f77b4"/>
     <use href="#mf14c53ed57" x="283.8" y="144.0336" style="fill: #1f77b4; stroke: #1f77b4"/>
     <use href="#mf14c53ed57" x="283.8" y="148.6056" style="fill: #1f77b4; stroke: #1f77b4"/>
     <use href="#mf14c53ed57" x="283.8" y="153.1776" style="fill: #1f77b4; stroke: #1f77b4"/>
     <use href="#mf14c53ed57" x="283.8" y="157.7496" style="fill: #1f77b4; stroke: #1f77b4"/>
     <use href="#mf14c53ed57" x="283.8" y="162.324" style="fill: #1f77b4; stroke: #1f77b4"/>
     <use href="#mf14c53ed57" x="285.12" y="118.884" style="fill: #1f77b4; stroke: #1f77b4"/>
     <use href="#mf14c53ed57" x="285.12" y="123.456" style="fill: #1f77b4; stroke: #1f77b4"/>
     <use href="#mf14c53ed57" x="285.12" y="137.1744" style="fill: #1f77b4; stroke: #1f77b4"/>
     <use href="#mf14c53ed57" x="285.12" y="141.7464" style="fill: #1f77b4; stroke: #1f77b4"/>
     <use href="#mf14c53ed57" x="285.12" y="146.3184" style="fill: #1f77b4; stroke: #1f77b4"/>
     <use href="#mf14c53ed57" x="285.12" y="150.8928" style="fill: #1f77b4; stroke: #1f77b4"/>
     <use href="#mf14c53ed57" x="285.12" y="155.4648" style="fill: #1f77b4; stroke: #1f77b4"/>
     <use href="#mf14c53ed57" x="285.12" y="160.0368" style="fill: #1f77b4; stroke: #1f77b4"/>
     <use href="#mf14c53ed57" x="285.12" y="164.6088" style="fill: #1f77b4; stroke: #1f77b4"/>
     <use href="#mf14c53ed57" x="286.44" y="121.1712" style="fill: #1f77b4; stroke: #1f77b4"/>
     <use href="#mf14c53ed57" x="286.44" y="125.7432" style="fill: #1f77b4; stroke: #1f77b4"/>
     <use href="#mf14c53ed57" x="286.44" y="134.8872" style="fill: #1f77b4; stroke: #1f77b4"/>
     <use href="#mf14c53ed57" x="286.44" y="148.6056" style="fill: #1f77b4; stroke: #1f77b4"/>
     <use href="#mf14c53ed57" x="286.44" y="153.1776" style="fill: #1f77b4; stroke: #1f77b4"/>
     <use href="#mf14c53ed57" x="286.44" y="157.7496" style="fill: #1f77b4; stroke: #1f77b4"/>
     <use href="#mf14c53ed57" x="286.44" y="162.324" style="fill: #1f77b4; stroke: #1f77b4"/>
     <use href="#mf14c53ed57" x="287.76" y="118.884" style="fill: #1f77b4; stroke: #1f77b4"/>
     <use href="#mf14c53ed57" x="287.76" y="123.456" style="fill: #1f77b4; stroke: #1f77b4"/>
     <use href="#mf14c53ed57" x="287.76" y="128.0304" style="fill: #1f77b4; stroke: #1f77b4"/>
     <use href="#mf14c53ed57" x="287.76" y="132.6024" style="fill: #1f77b4; stroke: #1f77b4"/>
     <use href="#mf14c53ed57" x="287.76" y="137.1744" style="fill: #1f77b4; stroke: #1f77b4"/>
     <use href="#mf14c53ed57" x="287.76" y="146.3184" style="fill: #1f77b4; stroke: #1f77b4"/>
     <use href="#mf14c53ed57" x="287.76" y="150.8928" style="fill: #1f77b4; stroke: #1f77b4"/>
     <use href="#mf14c53ed57" x="287.76" y="155.4648" style="fill: #1f77b4; stroke: #1f77b4"/>
     <use href="#mf14c53ed57" x="287.76" y="160.0368" style="fill: #1f77b4; stroke: #1f77b4"/>
     <use href="#mf14c53ed57" x="287.76" y="164.6088" style="fill: #1f77b4; stroke: #1f77b4"/>
     <use href="#mf14c53ed57" x="289.08" y="121.1712" style="fill: #1f77b4; stroke: #1f77b4"/>
     <use href="#mf14c53ed57" x="289.08" y="125.7432" style="fill: #1f77b4; stroke: #1f77b4"/>
     <use href="#mf14c53ed57" x="289.08" y="130.3152" style="fill: #1f77b4; stroke: #1f77b4"/>
     <use href="#mf14c53ed57" x="289.08" y="134.8872" style="fill: #1f77b4; stroke: #1f77b4"/>
     <use href="#mf14c53ed57" x="289.08" y="148.6056" style="fill: #1f77b4; stroke: #1f77b4"/>
     <use href="#mf14c53ed57" x="289.08" y="153.1776" style="fill: #1f77b4; stroke: #1f77b4"/>
     <use href="#mf14c53ed57" x="289.08" y="157.7496" style="fill: #1f77b4; stroke: #1f77b4"/>
     <use href="#mf14c53ed57" x="289.08" y="162.324" style="fill: #1f77b4; stroke: #1f77b4"/>
     <use href="#mf14c53ed57" x="290.4" y="118.884" style="fill: #1f77b4; stroke: #1f77b4"/>
     <use href="#mf14c53ed57" x="290.4" y="123.456" style="fill: #1f77b4; stroke: #1f77b4"/>
     <use href="#mf14c53ed57" x="290.4" y="128.0304" style="fill: #1f77b4; stroke: #1f77b4"/>
     <use href="#mf14c53ed57" x="290.4" y="132.6024" style="fill: #1f77b4; stroke: #1f77b4"/>
     <use href="#mf14c53ed57" x="290.4" y="150.8928" style="fill: #1f77b4; stroke: #1f77b4"/>
     <use href="#mf14c53ed57" x="290.4" y="155.4648" style="fill: #1f77b4; stroke: #1f77b4"/>
     <use href="#mf14c53ed57" x="290.4" y="160.0368" style="fill: #1f77b4; stroke: #1f77b4"/>
     <use href="#mf14c53ed57" x="291.72" y="121.1712" style="fill: #1f77b4; stroke: #1f77b4"/>
     <use href="#mf14c53ed57" x="291.72" y="125.7432" style="fill: #1f77b4; stroke: #1f77b4"/>
     <use href="#mf14c53ed57" x="291.72" y="130.3152" style="fill: #1f77b4; stroke: #1f77b4"/>
     <use href="#mf14c53ed57" x="291.72" y="153.1776" style="fill: #1f77b4; stroke: #1f77b4"/>
     <use href="#mf14c53ed57" x="291.72" y="157.7496" style="fill: #1f77b4; stroke: #1f77b4"/>
     <use href="#mf14c53ed57" x="291.72" y="162.324" style="fill: #1f77b4; stroke: #1f77b4"/>
     <use href="#mf14c53ed57" x="293.04" y="118.884" style="fill: #1f77b4; stroke: #1f77b4"/>
     <use href="#mf14c53ed57" x="293.04" y="123.456" style="fill: #1f77b4; stroke: #1f77b4"/>
     <use href="#mf14c53ed57" x="293.04" y="128.0304" style="fill: #1f77b4; stroke: #1f77b4"/>
     <use href="#mf14c53ed57" x="293.04" y="132.6024" style="fill: #1f77b4; stroke: #1f77b4"/>
     <use href="#mf14c53ed57" x="293.04" y="155.4648" style="fill: #1f77b4; stroke: #1f77b4"/>
     <use href="#mf14c53ed57" x="293.04" y="160.0368" style="fill: #1f77b4; stroke: #1f77b4"/>
     <use href="#mf14c53ed57" x="294.36" y="121.1712" style="fill: #1f77b4; stroke: #1f77b4"/>
     <use href="#mf14c53ed57" x="294.36" y="125.7432" style="fill: #1f77b4; stroke: #1f77b4"/>
     <use href="#mf14c53ed57" x="294.36" y="130.3152" style="fill: #1f77b4; stroke: #1f77b4"/>
     <use href="#mf14c53ed57" x="294.36" y="153.1776" style="fill: #1f77b4; stroke: #1f77b4"/>
     <use href="#mf14c53ed57" x="294.36" y="157.7496" style="fill: #1f77b4; stroke: #1f77b4"/>
     <use href="#mf14c53ed57" x="295.68" y="118.884" style="fill: #1f77b4; stroke: #1f77b4"/>
     <use href="#mf14c53ed57" x="295.68" y="123.456" style="fill: #1f77b4; stroke: #1f77b4"/>
     <use href="#mf14c53ed57" x="295.68" y="128.0304" style="fill: #1f77b4; stroke: #1f77b4"/>
     <use href="#mf14c53ed57" x="295.68" y="132.6024" style="fill: #1f77b4; stroke: #1f77b4"/>
     <use href="#mf14c53ed57" x="295.68" y="155.4648" style="fill: #1f77b4; stroke: #1f77b4"/>
     <use href="#mf14c53ed57" x="295.68" y="160.0368" style="fill: #1f77b4; stroke: #1f77b4"/>
     <use href="#mf14c53ed57" x="297" y="121.1712" style="fill: #1f77b4; stroke: #1f77b4"/>
     <use href="#mf14c53ed57" x="297" y="125.7432" style="fill: #1f77b4; stroke: #1f77b4"/>
     <use href="#mf14c53ed57" x="297" y="130.3152" style="fill: #1f77b4; stroke: #1f77b4"/>
     <use href="#mf14c53ed57" x="297" y="153.1776" style="fill: #1f77b4; stroke: #1f77b4"/>
     <use href="#mf14c53ed57" x="297" y="157.7496" style="fill: #1f77b4; stroke: #1f77b4"/>
     <use href="#mf14c53ed57" x="298.32" y="118.884" style="fill: #1f77b4; stroke: #1f77b4"/>
     <use href="#mf14c53ed57" x="298.32" y="123.456" style="fill: #1f77b4; stroke: #1f77b4"/>
     <use href="#mf14c53ed57" x="298.32" y="128.0304" style="fill: #1f77b4; stroke: #1f77b4"/>
     <use href="#mf14c53ed57" x="298.32" y="132.6024" style="fill: #1f77b4; stroke: #1f77b4"/>
     <use href="#mf14c53ed57" x="298.32" y="155.4648" style="fill: #1f77b4; stroke: #1f77b4"/>
     <use href="#mf14c53ed57" x="298.32" y="160.0368" style="fill: #1f77b4; stroke: #1f77b4"/>
     <use href="#mf14c53ed57" x="299.64" y="121.1712" style="fill: #1f77b4; stroke: #1f77b4"/>
     <use href="#mf14c53ed57" x="299.64" y="125.7432" style="fill: #1f77b4; stroke: #1f77b4"/>
     <use href="#mf14c53ed57" x="299.64" y="153.1776" style="fill: #1f77b4; stroke: #1f77b4"/>
     <use href="#mf14c53ed57" x="299.64" y="157.7496" style="fill: #1f77b4; stroke: #1f77b4"/>
     <use href="#mf14c53ed57" x="300.96" y="118.884" style="fill: #1f77b4; stroke: #1f77b4"/>
     <use href="#mf14c53ed57" x="300.96" y="123.456" style="fill: #1f77b4; stroke: #1f77b4"/>
     <use href="#mf14c53ed57" x="300.96" y="155.4648" style="fill: #1f77b4; stroke: #1f77b4"/>
     <use href="#mf14c53ed57" x="300.96" y="160.0368" style="fill: #1f77b4; stroke: #1f77b4"/>
     <use href="#mf14c53ed57" x="302.28" y="157.7496" style="fill: #1f77b4; stroke: #1f77b4"/>
     <use href="#mf14c53ed57" x="303.6" y="160.0368" style="fill: #1f77b4; stroke: #1f77b4"/>
     <use href="#mf14c53ed57" x="304.92" y="157.7496" style="fill: #1f77b4; stroke: #1f77b4"/>
     <use href="#mf14c53ed57" x="306.24" y="160.0368" style="fill: #1f77b4; stroke: #1f77b4"/>
     <use href="#mf14c53ed57" x="307.56" y="157.7496" style="fill: #1f77b4; stroke: #1f77b4"/>
     <use href="#mf14c53ed57" x="308.88" y="160.0368" style="fill: #1f77b4; stroke: #1f77b4"/>
    </g>
   </g>
   <g id="matplotlib.axis_1">
    <g id="xtick_1">
     <g id="line2d_1">
      <path d="M 114.36 303.72 
L 114.36 26.976 
" clip-path="url(#pfc69b244ac)" style="fill: none; stroke: #b0b0b0; stroke-width: 0.8; stroke-linecap: square"/>
     </g>
     <g id="line2d_2">
      <defs>
       <path id="m1504cfccaf" d="M 0 0 
L 0 3.5 
" style="stroke: #000000; stroke-width: 0.8"/>
      </defs>
      <g>
       <use href="#m1504cfccaf" x="114.36" y="303.72" style="stroke: #000000; stroke-width: 0.8"/>
      </g>
     </g>
     <g id="text_1">
      <text x="114.36" y="318.318437" font-family="Liberation Sans, sans-serif" font-size="10" fill="#000000" text-anchor="middle">−0.04</text>
     </g>
    </g>
    <g id="xtick_2">
     <g id="line2d_3">
      <path d="M 185.4 303.72 
L 185.4 26.976 
" clip-path="url(#pfc69b244ac)" style="fill: none; stroke: #b0b0b0; stroke-width: 0.8; stroke-linecap: square"/>
     </g>
     <g id="line2d_4">
      <g>
       <use href="#m1504cfccaf" x="185.4" y="303.72" style="stroke: #000000; stroke-width: 0.8"/>
      </g>
     </g>
     <g id="text_2">
      <text x="185.4" y="318.318437" font-family="Liberation Sans, sans-serif" font-size="10" fill="#000000" text-anchor="middle">−0.02</text>
     </g>
    </g>
    <g id="xtick_3">
     <g id="line2d_5">
      <path d="M 256.2 303.72 
L 256.2 26.976 
" clip-path="url(#pfc69b244ac)" style="fill: none; stroke: #b0b0b0; stroke-width: 0.8; stroke-linecap: square"/>
     </g>
     <g id="line2d_6">
      <g>
       <use href="#m1504cfccaf" x="256.2" y="303.72" style="stroke: #000000; stroke-width: 0.8"/>
      </g>
     </g>
     <g id="text_3">
      <text x="256.2" y="318.318437" font-family="Liberation Sans, sans-serif" font-size="10" fill="#000000" text-anchor="middle">0.00</text>
     </g>
    </g>
    <g id="xtick_4">
     <g id="line2d_7">
      <path d="M 327.24 303.72 
L 327.24 26.976 
" clip-path="url(#pfc69b244ac)" style="fill: none; stroke: #b0b0b0; stroke-width: 0.8; stroke-linecap: square"/>
     </g>
     <g id="line2d_8">
      <g>
       <use href="#m1504cfccaf" x="327.24" y="303.72" style="stroke: #000000; stroke-width: 0.8"/>
      </g>
     </g>
     <g id="text_4">
      <text x="327.24" y="318.318437" font-family="Liberation Sans, sans-serif" font-size="10" fill="#000000" text-anchor="middle">0.02</text>
     </g>
    </g>
    <g id="xtick_5">
     <g id="line2d_9">
      <path d="M 398.28 303.72 
L 398.28 26.976 
" clip-path="url(#pfc69b244ac)" style="fill: none; stroke: #b0b0b0; stroke-width: 0.8; stroke-linecap: square"/>
     </g>
     <g id="line2d_10">
      <g>
       <use href="#m1504cfccaf" x="398.28" y="303.72" style="stroke: #000000; stroke-width: 0.8"/>
      </g>
     </g>
     <g id="text_5">
      <text x="398.28" y="318.318437" font-family="Liberation Sans, sans-serif" font-size="10" fill="#000000" text-anchor="middle">0.04</text>
     </g>
    </g>
    <g id="text_6" transform="translate(-0.216 0.552)">
     <text x="256.332" y="331.996562" font-family="Liberation Sans, sans-serif" font-size="10" fill="#000000" text-anchor="middle">Daily Log Return Market</text>
    </g>
   </g>
   <g id="matplotlib.axis_2">
    <g id="ytick_1">
     <g id="line2d_11">
      <path d="M 62.52 266.76 
L 450.144 266.76 
" clip-path="url(#pfc69b244ac)" style="fill: none; stroke: #b0b0b0; stroke-width: 0.8; stroke-linecap: square"/>
     </g>
     <g id="line2d_12">
      <defs>
       <path id="m5d545ce8f8" d="M 0 0 
L -3.5 0 
" style="stroke: #000000; stroke-width: 0.8"/>
      </defs>
      <g>
       <use href="#m5d545ce8f8" x="62.52" y="266.76" style="stroke: #000000; stroke-width: 0.8"/>
      </g>
     </g>
     <g id="text_7" transform="translate(-0.384 -0.072)">
      <text x="55.52" y="270.559219" font-family="Liberation Sans, sans-serif" font-size="10" fill="#000000" text-anchor="end">−0.04</text>
     </g>
    </g>
    <g id="ytick_2">
     <g id="line2d_13">
      <path d="M 62.52 216.12 
L 450.144 216.12 
" clip-path="url(#pfc69b244ac)" style="fill: none; stroke: #b0b0b0; stroke-width: 0.8; stroke-linecap: square"/>
     </g>
     <g id="line2d_14">
      <g>
       <use href="#m5d545ce8f8" x="62.52" y="216.12" style="stroke: #000000; stroke-width: 0.8"/>
      </g>
     </g>
     <g id="text_8" transform="translate(-0.384 -0.072)">
      <text x="55.52" y="219.919219" font-family="Liberation Sans, sans-serif" font-size="10" fill="#000000" text-anchor="end">−0.02</text>
     </g>
    </g>
    <g id="ytick_3">
     <g id="line2d_15">
      <path d="M 62.52 165.48 
L 450.144 165.48 
" clip-path="url(#pfc69b244ac)" style="fill: none; stroke: #b0b0b0; stroke-width: 0.8; stroke-linecap: square"/>
     </g>
     <g id="line2d_16">
      <g>
       <use href="#m5d545ce8f8" x="62.52" y="165.48" style="stroke: #000000; stroke-width: 0.8"/>
      </g>
     </g>
     <g id="text_9" transform="translate(-0.384 -0.072)">
      <text x="55.52" y="169.279219" font-family="Liberation Sans, sans-serif" font-size="10" fill="#000000" text-anchor="end">0.00</text>
     </g>
    </g>
    <g id="ytick_4">
     <g id="line2d_17">
      <path d="M 62.52 114.84 
L 450.144 114.84 
" clip-path="url(#pfc69b244ac)" style="fill: none; stroke: #b0b0b0; stroke-width: 0.8; stroke-linecap: square"/>
     </g>
     <g id="line2d_18">
      <g>
       <use href="#m5d545ce8f8" x="62.52" y="114.84" style="stroke: #000000; stroke-width: 0.8"/>
      </g>
     </g>
     <g id="text_10" transform="translate(-0.384 -0.072)">
      <text x="55.52" y="118.639219" font-family="Liberation Sans, sans-serif" font-size="10" fill="#000000" text-anchor="end">0.02</text>
     </g>
    </g>
    <g id="ytick_5">
     <g id="line2d_19">
      <path d="M 62.52 63.96 
L 450.144 63.96 
" clip-path="url(#pfc69b244ac)" style="fill: none; stroke: #b0b0b0; stroke-width: 0.8; stroke-linecap: square"/>
     </g>
     <g id="line2d_20">
      <g>
       <use href="#m5d545ce8f8" x="62.52" y="63.96" style="stroke: #000000; stroke-width: 0.8"/>
      </g>
     </g>
     <g id="text_11" transform="translate(-0.384 -0.072)">
      <text x="55.52" y="67.759219" font-family="Liberation Sans, sans-serif" font-size="10" fill="#000000" text-anchor="end">0.04</text>
     </g>
    </g>
    <g id="text_12" transform="translate(-0.696 0.000)">
     <text x="0" y="0" transform="translate(18.795 165.348) rotate(-90)" font-family="Liberation Sans, sans-serif" font-size="10" fill="#000000" text-anchor="middle">Daily Log Return TMO</text>
    </g>
   </g>
   <g id="line2d_21">
    <path d="M 62.52 287.979324 
L 450.144 41.489222 
" clip-path="url(#pfc69b244ac)" style="fill: none; stroke-dasharray: 5.55,2.4; stroke-dashoffset: 0; stroke: #ff0000; stroke-width: 1.5"/>
   </g>
   <g id="patch_3">
    <path d="M 62.52 303.72 
L 62.52 26.976 
" style="fill: none; stroke: #000000; stroke-width: 0.8; stroke-linejoin: miter; stroke-linecap: square"/>
   </g>
   <g id="patch_4">
    <path d="M 450.144 303.72 
L 450.144 26.976 
" style="fill: none; stroke: #000000; stroke-width: 0.8; stroke-linejoin: miter; stroke-linecap: square"/>
   </g>
   <g id="patch_5">
    <path d="M 62.52 303.72 
L 450.144 303.72 
" style="fill: none; stroke: #000000; stroke-width: 0.8; stroke-linejoin: miter; stroke-linecap: square"/>
   </g>
   <g id="patch_6">
    <path d="M 62.52 26.976 
L 450.144 26.976 
" style="fill: none; stroke: #000000; stroke-width: 0.8; stroke-linejoin: miter; stroke-linecap: square"/>
   </g>
   <g id="text_13" transform="translate(-0.240 -0.072)">
    <text x="256.332" y="20.976" font-family="Liberation Sans, sans-serif" font-size="12" fill="#000000" text-anchor="middle">Market Return Against Return of TMO</text>
   </g>
   <g id="legend_1" transform="translate(-0.312 0.216)">
    <g id="patch_7">
     <path d="M 69.52 49.654125 
L 198.716875 49.654125 
Q 200.716875 49.654125 200.716875 47.654125 
L 200.716875 33.976 
Q 200.716875 31.976 198.716875 31.976 
L 69.52 31.976 
Q 67.52 31.976 67.52 33.976 
L 67.52 47.654125 
Q 67.52 49.654125 69.52 49.654125 
z
" style="fill: #ffffff; opacity: 0.8; stroke: #cccccc; stroke-linejoin: miter"/>
    </g>
    <g id="line2d_22">
     <path d="M 71.52 40.074438 
L 81.52 40.074438 
L 91.52 40.074438 
" style="fill: none; stroke-dasharray: 5.55,2.4; stroke-dashoffset: 0; stroke: #ff0000; stroke-width: 1.5"/>
    </g>
    <g id="text_14" transform="translate(0.096 -0.024)">
     <text x="99.52" y="43.574438" font-family="Liberation Sans, sans-serif" font-size="10" fill="#000000" text-anchor="start">y = 0.00 + x * 0.89</text>
    </g>
   </g>
  </g>
 </g>
 <defs>
  <clipPath id="pfc69b244ac">
   <rect x="62.52" y="26.976" width="387.624" height="276.744"/>
  </clipPath>
 </defs>
</svg>

</body></html>
